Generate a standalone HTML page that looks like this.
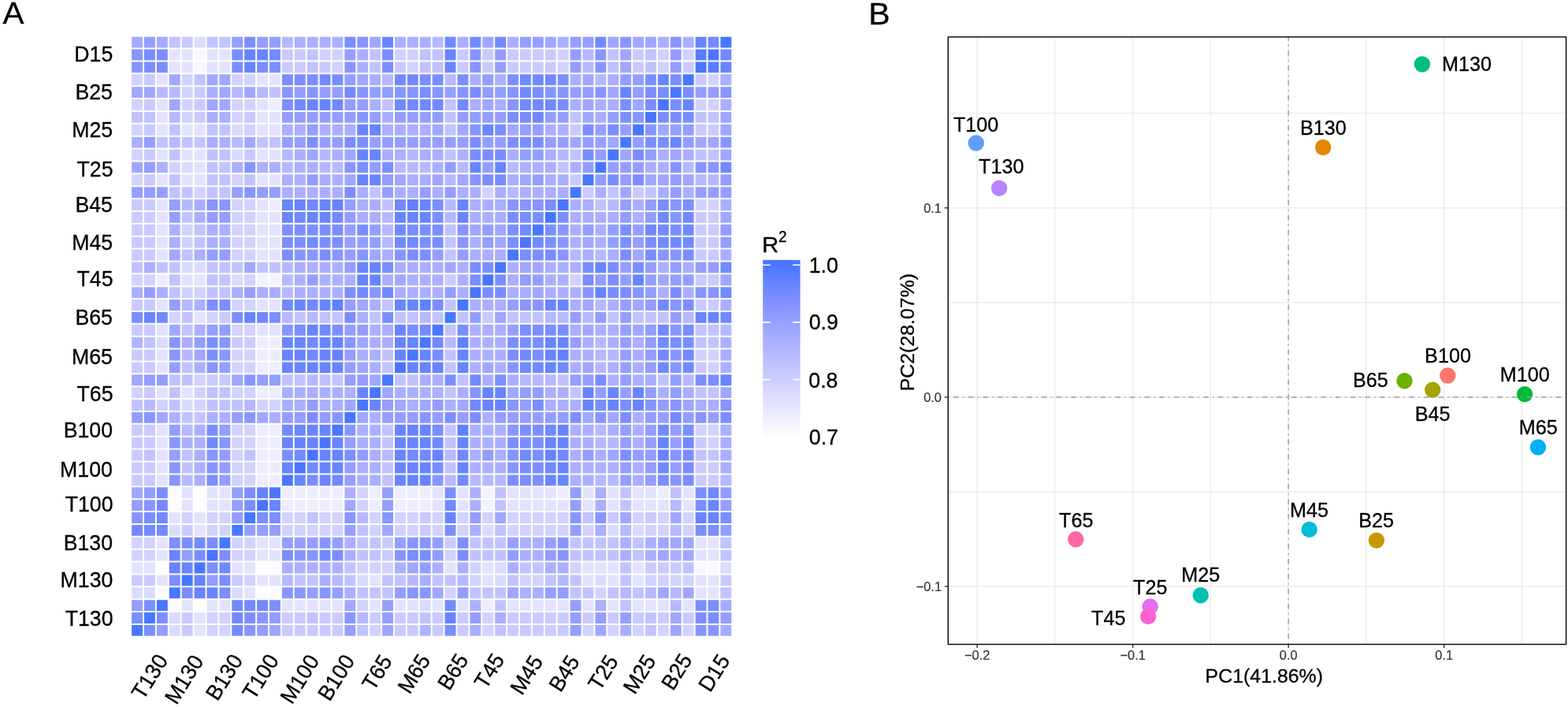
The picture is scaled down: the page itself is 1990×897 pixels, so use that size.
<!DOCTYPE html>
<html><head><meta charset="utf-8"><title>Figure</title>
<style>html,body{margin:0;padding:0;background:#fff;}body{width:1990px;height:897px;overflow:hidden;}svg{display:block;}</style>
</head><body>
<svg width="1990" height="897" viewBox="0 0 1990 897" font-family='"Liberation Sans", Arial, Helvetica, sans-serif'>
<style>text{stroke:#000;stroke-width:0.30px}text.tk{stroke:#333333;stroke-width:0.2px}</style>
<rect width="1990" height="897" fill="#fff"/>
<path fill="#FFFFFF" d="M246.60 618.26h13.90v13.88h-13.90zM246.60 634.14h13.90v13.88h-13.90zM198.90 713.53h13.90v13.88h-13.90zM326.10 713.53h13.90v13.88h-13.90zM342.00 713.53h13.90v13.88h-13.90zM246.60 761.16h13.90v13.88h-13.90z"/>
<path fill="#FCFBFF" d="M214.80 618.26h13.90v13.88h-13.90zM214.80 634.14h13.90v13.88h-13.90zM198.90 745.28h13.90v13.88h-13.90zM326.10 745.28h13.90v13.88h-13.90zM342.00 745.28h13.90v13.88h-13.90zM214.80 761.16h13.90v13.88h-13.90z"/>
<path fill="#F8F8FF" d="M246.60 62.53h13.90v13.88h-13.90zM246.60 78.41h13.90v13.88h-13.90zM882.60 713.53h13.90v13.88h-13.90zM898.50 713.53h13.90v13.88h-13.90z"/>
<path fill="#F3F3FF" d="M326.10 348.33h13.90v13.88h-13.90zM342.00 348.33h13.90v13.88h-13.90zM612.30 618.26h13.90v13.88h-13.90zM612.30 634.14h13.90v13.88h-13.90z"/>
<path fill="#EEEDFF" d="M342.00 126.04h13.90v13.88h-13.90zM342.00 253.06h13.90v13.88h-13.90zM198.90 348.33h13.90v13.88h-13.90zM326.10 427.72h13.90v13.88h-13.90zM342.00 427.72h13.90v13.88h-13.90zM326.10 443.60h13.90v13.88h-13.90zM342.00 443.60h13.90v13.88h-13.90zM326.10 459.48h13.90v13.88h-13.90zM342.00 459.48h13.90v13.88h-13.90zM326.10 491.23h13.90v13.88h-13.90zM342.00 491.23h13.90v13.88h-13.90zM326.10 538.87h13.90v13.88h-13.90zM342.00 538.87h13.90v13.88h-13.90zM326.10 554.75h13.90v13.88h-13.90zM342.00 554.75h13.90v13.88h-13.90zM326.10 570.62h13.90v13.88h-13.90zM342.00 570.62h13.90v13.88h-13.90zM326.10 586.50h13.90v13.88h-13.90zM342.00 586.50h13.90v13.88h-13.90zM326.10 602.38h13.90v13.88h-13.90zM342.00 602.38h13.90v13.88h-13.90zM357.90 618.26h13.90v13.88h-13.90zM373.80 618.26h13.90v13.88h-13.90zM389.70 618.26h13.90v13.88h-13.90zM405.60 618.26h13.90v13.88h-13.90zM421.50 618.26h13.90v13.88h-13.90zM469.20 618.26h13.90v13.88h-13.90zM501.00 618.26h13.90v13.88h-13.90zM516.90 618.26h13.90v13.88h-13.90zM532.80 618.26h13.90v13.88h-13.90zM707.70 618.26h13.90v13.88h-13.90zM834.90 618.26h13.90v13.88h-13.90zM357.90 634.14h13.90v13.88h-13.90zM373.80 634.14h13.90v13.88h-13.90zM389.70 634.14h13.90v13.88h-13.90zM405.60 634.14h13.90v13.88h-13.90zM421.50 634.14h13.90v13.88h-13.90zM469.20 634.14h13.90v13.88h-13.90zM501.00 634.14h13.90v13.88h-13.90zM516.90 634.14h13.90v13.88h-13.90zM532.80 634.14h13.90v13.88h-13.90zM612.30 761.16h13.90v13.88h-13.90z"/>
<path fill="#E4E3FF" d="M214.80 62.53h13.90v13.88h-13.90zM230.70 62.53h13.90v13.88h-13.90zM262.50 62.53h13.90v13.88h-13.90zM278.40 62.53h13.90v13.88h-13.90zM214.80 78.41h13.90v13.88h-13.90zM230.70 78.41h13.90v13.88h-13.90zM262.50 78.41h13.90v13.88h-13.90zM278.40 78.41h13.90v13.88h-13.90zM198.90 94.28h13.90v13.88h-13.90zM326.10 94.28h13.90v13.88h-13.90zM342.00 94.28h13.90v13.88h-13.90zM198.90 126.04h13.90v13.88h-13.90zM326.10 126.04h13.90v13.88h-13.90zM198.90 141.92h13.90v13.88h-13.90zM326.10 141.92h13.90v13.88h-13.90zM342.00 141.92h13.90v13.88h-13.90zM198.90 157.80h13.90v13.88h-13.90zM230.70 157.80h13.90v13.88h-13.90zM246.60 157.80h13.90v13.88h-13.90zM326.10 157.80h13.90v13.88h-13.90zM342.00 157.80h13.90v13.88h-13.90zM198.90 189.55h13.90v13.88h-13.90zM230.70 189.55h13.90v13.88h-13.90zM246.60 189.55h13.90v13.88h-13.90zM326.10 189.55h13.90v13.88h-13.90zM342.00 189.55h13.90v13.88h-13.90zM246.60 205.43h13.90v13.88h-13.90zM198.90 221.31h13.90v13.88h-13.90zM230.70 221.31h13.90v13.88h-13.90zM246.60 221.31h13.90v13.88h-13.90zM326.10 221.31h13.90v13.88h-13.90zM342.00 221.31h13.90v13.88h-13.90zM198.90 253.06h13.90v13.88h-13.90zM326.10 253.06h13.90v13.88h-13.90zM198.90 268.94h13.90v13.88h-13.90zM326.10 268.94h13.90v13.88h-13.90zM342.00 268.94h13.90v13.88h-13.90zM198.90 284.82h13.90v13.88h-13.90zM326.10 284.82h13.90v13.88h-13.90zM342.00 284.82h13.90v13.88h-13.90zM198.90 300.70h13.90v13.88h-13.90zM326.10 300.70h13.90v13.88h-13.90zM342.00 300.70h13.90v13.88h-13.90zM198.90 316.58h13.90v13.88h-13.90zM326.10 316.58h13.90v13.88h-13.90zM342.00 316.58h13.90v13.88h-13.90zM230.70 348.33h13.90v13.88h-13.90zM246.60 348.33h13.90v13.88h-13.90zM198.90 380.09h13.90v13.88h-13.90zM326.10 380.09h13.90v13.88h-13.90zM342.00 380.09h13.90v13.88h-13.90zM246.60 395.97h13.90v13.88h-13.90zM198.90 411.84h13.90v13.88h-13.90zM326.10 411.84h13.90v13.88h-13.90zM342.00 411.84h13.90v13.88h-13.90zM198.90 443.60h13.90v13.88h-13.90zM198.90 459.48h13.90v13.88h-13.90zM198.90 491.23h13.90v13.88h-13.90zM230.70 491.23h13.90v13.88h-13.90zM198.90 538.87h13.90v13.88h-13.90zM198.90 554.75h13.90v13.88h-13.90zM198.90 570.62h13.90v13.88h-13.90zM198.90 586.50h13.90v13.88h-13.90zM198.90 602.38h13.90v13.88h-13.90zM230.70 618.26h13.90v13.88h-13.90zM262.50 618.26h13.90v13.88h-13.90zM278.40 618.26h13.90v13.88h-13.90zM548.70 618.26h13.90v13.88h-13.90zM580.50 618.26h13.90v13.88h-13.90zM644.10 618.26h13.90v13.88h-13.90zM660.00 618.26h13.90v13.88h-13.90zM675.90 618.26h13.90v13.88h-13.90zM691.80 618.26h13.90v13.88h-13.90zM739.50 618.26h13.90v13.88h-13.90zM771.30 618.26h13.90v13.88h-13.90zM803.10 618.26h13.90v13.88h-13.90zM819.00 618.26h13.90v13.88h-13.90zM866.70 618.26h13.90v13.88h-13.90zM230.70 634.14h13.90v13.88h-13.90zM262.50 634.14h13.90v13.88h-13.90zM278.40 634.14h13.90v13.88h-13.90zM548.70 634.14h13.90v13.88h-13.90zM580.50 634.14h13.90v13.88h-13.90zM644.10 634.14h13.90v13.88h-13.90zM660.00 634.14h13.90v13.88h-13.90zM675.90 634.14h13.90v13.88h-13.90zM691.80 634.14h13.90v13.88h-13.90zM707.70 634.14h13.90v13.88h-13.90zM739.50 634.14h13.90v13.88h-13.90zM771.30 634.14h13.90v13.88h-13.90zM803.10 634.14h13.90v13.88h-13.90zM819.00 634.14h13.90v13.88h-13.90zM834.90 634.14h13.90v13.88h-13.90zM866.70 634.14h13.90v13.88h-13.90zM214.80 650.01h13.90v13.88h-13.90zM246.60 650.01h13.90v13.88h-13.90zM246.60 665.89h13.90v13.88h-13.90zM198.90 681.77h13.90v13.88h-13.90zM326.10 681.77h13.90v13.88h-13.90zM342.00 681.77h13.90v13.88h-13.90zM882.60 681.77h13.90v13.88h-13.90zM898.50 681.77h13.90v13.88h-13.90zM198.90 697.65h13.90v13.88h-13.90zM326.10 697.65h13.90v13.88h-13.90zM342.00 697.65h13.90v13.88h-13.90zM882.60 697.65h13.90v13.88h-13.90zM898.50 697.65h13.90v13.88h-13.90zM167.10 713.53h13.90v13.88h-13.90zM183.00 713.53h13.90v13.88h-13.90zM294.30 713.53h13.90v13.88h-13.90zM310.20 713.53h13.90v13.88h-13.90zM564.60 713.53h13.90v13.88h-13.90zM612.30 713.53h13.90v13.88h-13.90zM739.50 713.53h13.90v13.88h-13.90zM755.40 713.53h13.90v13.88h-13.90zM771.30 713.53h13.90v13.88h-13.90zM803.10 713.53h13.90v13.88h-13.90zM198.90 729.40h13.90v13.88h-13.90zM326.10 729.40h13.90v13.88h-13.90zM342.00 729.40h13.90v13.88h-13.90zM469.20 729.40h13.90v13.88h-13.90zM612.30 729.40h13.90v13.88h-13.90zM739.50 729.40h13.90v13.88h-13.90zM771.30 729.40h13.90v13.88h-13.90zM803.10 729.40h13.90v13.88h-13.90zM882.60 729.40h13.90v13.88h-13.90zM898.50 729.40h13.90v13.88h-13.90zM310.20 745.28h13.90v13.88h-13.90zM882.60 745.28h13.90v13.88h-13.90zM898.50 745.28h13.90v13.88h-13.90zM230.70 761.16h13.90v13.88h-13.90zM262.50 761.16h13.90v13.88h-13.90zM278.40 761.16h13.90v13.88h-13.90zM357.90 761.16h13.90v13.88h-13.90zM373.80 761.16h13.90v13.88h-13.90zM389.70 761.16h13.90v13.88h-13.90zM405.60 761.16h13.90v13.88h-13.90zM421.50 761.16h13.90v13.88h-13.90zM469.20 761.16h13.90v13.88h-13.90zM501.00 761.16h13.90v13.88h-13.90zM516.90 761.16h13.90v13.88h-13.90zM548.70 761.16h13.90v13.88h-13.90zM580.50 761.16h13.90v13.88h-13.90zM644.10 761.16h13.90v13.88h-13.90zM660.00 761.16h13.90v13.88h-13.90zM675.90 761.16h13.90v13.88h-13.90zM691.80 761.16h13.90v13.88h-13.90zM707.70 761.16h13.90v13.88h-13.90zM739.50 761.16h13.90v13.88h-13.90zM771.30 761.16h13.90v13.88h-13.90zM803.10 761.16h13.90v13.88h-13.90zM819.00 761.16h13.90v13.88h-13.90zM834.90 761.16h13.90v13.88h-13.90zM866.70 761.16h13.90v13.88h-13.90zM246.60 777.04h13.90v13.88h-13.90zM246.60 792.92h13.90v13.88h-13.90z"/>
<path fill="#DBDBFF" d="M246.60 46.65h13.90v13.88h-13.90zM294.30 157.80h13.90v13.88h-13.90zM294.30 189.55h13.90v13.88h-13.90zM230.70 205.43h13.90v13.88h-13.90zM230.70 332.45h13.90v13.88h-13.90zM246.60 332.45h13.90v13.88h-13.90zM294.30 348.33h13.90v13.88h-13.90zM198.90 427.72h13.90v13.88h-13.90zM230.70 507.11h13.90v13.88h-13.90zM214.80 665.89h13.90v13.88h-13.90zM612.30 665.89h13.90v13.88h-13.90zM771.30 665.89h13.90v13.88h-13.90zM803.10 665.89h13.90v13.88h-13.90zM628.20 713.53h13.90v13.88h-13.90zM914.40 713.53h13.90v13.88h-13.90zM453.30 729.40h13.90v13.88h-13.90zM628.20 729.40h13.90v13.88h-13.90zM755.40 729.40h13.90v13.88h-13.90zM167.10 745.28h13.90v13.88h-13.90zM183.00 745.28h13.90v13.88h-13.90zM294.30 745.28h13.90v13.88h-13.90zM532.80 761.16h13.90v13.88h-13.90zM214.80 777.04h13.90v13.88h-13.90zM214.80 792.92h13.90v13.88h-13.90z"/>
<path fill="#D2D2FF" d="M405.60 62.53h13.90v13.88h-13.90zM421.50 62.53h13.90v13.88h-13.90zM501.00 62.53h13.90v13.88h-13.90zM516.90 62.53h13.90v13.88h-13.90zM707.70 62.53h13.90v13.88h-13.90zM834.90 62.53h13.90v13.88h-13.90zM866.70 62.53h13.90v13.88h-13.90zM421.50 78.41h13.90v13.88h-13.90zM516.90 78.41h13.90v13.88h-13.90zM707.70 78.41h13.90v13.88h-13.90zM834.90 78.41h13.90v13.88h-13.90zM167.10 94.28h13.90v13.88h-13.90zM230.70 94.28h13.90v13.88h-13.90zM294.30 94.28h13.90v13.88h-13.90zM310.20 94.28h13.90v13.88h-13.90zM898.50 94.28h13.90v13.88h-13.90zM230.70 110.16h13.90v13.88h-13.90zM167.10 126.04h13.90v13.88h-13.90zM230.70 126.04h13.90v13.88h-13.90zM294.30 126.04h13.90v13.88h-13.90zM310.20 126.04h13.90v13.88h-13.90zM882.60 126.04h13.90v13.88h-13.90zM898.50 126.04h13.90v13.88h-13.90zM230.70 141.92h13.90v13.88h-13.90zM294.30 141.92h13.90v13.88h-13.90zM167.10 157.80h13.90v13.88h-13.90zM310.20 157.80h13.90v13.88h-13.90zM167.10 189.55h13.90v13.88h-13.90zM214.80 205.43h13.90v13.88h-13.90zM167.10 221.31h13.90v13.88h-13.90zM294.30 221.31h13.90v13.88h-13.90zM246.60 237.19h13.90v13.88h-13.90zM612.30 237.19h13.90v13.88h-13.90zM294.30 253.06h13.90v13.88h-13.90zM310.20 253.06h13.90v13.88h-13.90zM882.60 253.06h13.90v13.88h-13.90zM898.50 253.06h13.90v13.88h-13.90zM294.30 268.94h13.90v13.88h-13.90zM310.20 268.94h13.90v13.88h-13.90zM230.70 284.82h13.90v13.88h-13.90zM294.30 284.82h13.90v13.88h-13.90zM310.20 284.82h13.90v13.88h-13.90zM230.70 300.70h13.90v13.88h-13.90zM294.30 300.70h13.90v13.88h-13.90zM310.20 300.70h13.90v13.88h-13.90zM294.30 316.58h13.90v13.88h-13.90zM310.20 316.58h13.90v13.88h-13.90zM167.10 348.33h13.90v13.88h-13.90zM183.00 348.33h13.90v13.88h-13.90zM310.20 348.33h13.90v13.88h-13.90zM723.60 348.33h13.90v13.88h-13.90zM230.70 364.21h13.90v13.88h-13.90zM246.60 364.21h13.90v13.88h-13.90zM294.30 380.09h13.90v13.88h-13.90zM310.20 380.09h13.90v13.88h-13.90zM214.80 395.97h13.90v13.88h-13.90zM262.50 395.97h13.90v13.88h-13.90zM294.30 411.84h13.90v13.88h-13.90zM310.20 411.84h13.90v13.88h-13.90zM294.30 443.60h13.90v13.88h-13.90zM310.20 443.60h13.90v13.88h-13.90zM882.60 443.60h13.90v13.88h-13.90zM898.50 443.60h13.90v13.88h-13.90zM294.30 459.48h13.90v13.88h-13.90zM310.20 459.48h13.90v13.88h-13.90zM898.50 459.48h13.90v13.88h-13.90zM246.60 475.36h13.90v13.88h-13.90zM167.10 491.23h13.90v13.88h-13.90zM246.60 491.23h13.90v13.88h-13.90zM294.30 491.23h13.90v13.88h-13.90zM310.20 491.23h13.90v13.88h-13.90zM198.90 507.11h13.90v13.88h-13.90zM246.60 507.11h13.90v13.88h-13.90zM326.10 507.11h13.90v13.88h-13.90zM342.00 507.11h13.90v13.88h-13.90zM294.30 538.87h13.90v13.88h-13.90zM310.20 538.87h13.90v13.88h-13.90zM882.60 538.87h13.90v13.88h-13.90zM898.50 538.87h13.90v13.88h-13.90zM294.30 554.75h13.90v13.88h-13.90zM310.20 554.75h13.90v13.88h-13.90zM898.50 554.75h13.90v13.88h-13.90zM294.30 570.62h13.90v13.88h-13.90zM294.30 586.50h13.90v13.88h-13.90zM310.20 586.50h13.90v13.88h-13.90zM294.30 602.38h13.90v13.88h-13.90zM310.20 602.38h13.90v13.88h-13.90zM453.30 618.26h13.90v13.88h-13.90zM453.30 634.14h13.90v13.88h-13.90zM230.70 650.01h13.90v13.88h-13.90zM262.50 650.01h13.90v13.88h-13.90zM278.40 650.01h13.90v13.88h-13.90zM357.90 650.01h13.90v13.88h-13.90zM373.80 650.01h13.90v13.88h-13.90zM405.60 650.01h13.90v13.88h-13.90zM421.50 650.01h13.90v13.88h-13.90zM469.20 650.01h13.90v13.88h-13.90zM501.00 650.01h13.90v13.88h-13.90zM516.90 650.01h13.90v13.88h-13.90zM548.70 650.01h13.90v13.88h-13.90zM580.50 650.01h13.90v13.88h-13.90zM612.30 650.01h13.90v13.88h-13.90zM644.10 650.01h13.90v13.88h-13.90zM660.00 650.01h13.90v13.88h-13.90zM675.90 650.01h13.90v13.88h-13.90zM691.80 650.01h13.90v13.88h-13.90zM707.70 650.01h13.90v13.88h-13.90zM803.10 650.01h13.90v13.88h-13.90zM834.90 650.01h13.90v13.88h-13.90zM866.70 650.01h13.90v13.88h-13.90zM262.50 665.89h13.90v13.88h-13.90zM278.40 665.89h13.90v13.88h-13.90zM357.90 665.89h13.90v13.88h-13.90zM373.80 665.89h13.90v13.88h-13.90zM389.70 665.89h13.90v13.88h-13.90zM405.60 665.89h13.90v13.88h-13.90zM421.50 665.89h13.90v13.88h-13.90zM469.20 665.89h13.90v13.88h-13.90zM501.00 665.89h13.90v13.88h-13.90zM516.90 665.89h13.90v13.88h-13.90zM548.70 665.89h13.90v13.88h-13.90zM580.50 665.89h13.90v13.88h-13.90zM644.10 665.89h13.90v13.88h-13.90zM660.00 665.89h13.90v13.88h-13.90zM675.90 665.89h13.90v13.88h-13.90zM691.80 665.89h13.90v13.88h-13.90zM707.70 665.89h13.90v13.88h-13.90zM739.50 665.89h13.90v13.88h-13.90zM819.00 665.89h13.90v13.88h-13.90zM834.90 665.89h13.90v13.88h-13.90zM866.70 665.89h13.90v13.88h-13.90zM167.10 681.77h13.90v13.88h-13.90zM183.00 681.77h13.90v13.88h-13.90zM294.30 681.77h13.90v13.88h-13.90zM310.20 681.77h13.90v13.88h-13.90zM167.10 697.65h13.90v13.88h-13.90zM183.00 697.65h13.90v13.88h-13.90zM294.30 697.65h13.90v13.88h-13.90zM310.20 697.65h13.90v13.88h-13.90zM564.60 697.65h13.90v13.88h-13.90zM453.30 713.53h13.90v13.88h-13.90zM469.20 713.53h13.90v13.88h-13.90zM485.10 713.53h13.90v13.88h-13.90zM596.40 713.53h13.90v13.88h-13.90zM723.60 713.53h13.90v13.88h-13.90zM310.20 729.40h13.90v13.88h-13.90zM596.40 729.40h13.90v13.88h-13.90zM660.00 729.40h13.90v13.88h-13.90zM675.90 729.40h13.90v13.88h-13.90zM819.00 729.40h13.90v13.88h-13.90zM834.90 729.40h13.90v13.88h-13.90zM850.80 729.40h13.90v13.88h-13.90zM866.70 729.40h13.90v13.88h-13.90zM564.60 745.28h13.90v13.88h-13.90zM755.40 745.28h13.90v13.88h-13.90zM453.30 761.16h13.90v13.88h-13.90zM262.50 777.04h13.90v13.88h-13.90zM278.40 777.04h13.90v13.88h-13.90zM612.30 777.04h13.90v13.88h-13.90zM262.50 792.92h13.90v13.88h-13.90zM278.40 792.92h13.90v13.88h-13.90zM469.20 792.92h13.90v13.88h-13.90zM612.30 792.92h13.90v13.88h-13.90zM739.50 792.92h13.90v13.88h-13.90zM771.30 792.92h13.90v13.88h-13.90zM803.10 792.92h13.90v13.88h-13.90zM834.90 792.92h13.90v13.88h-13.90zM866.70 792.92h13.90v13.88h-13.90z"/>
<path fill="#CACAFF" d="M230.70 46.65h13.90v13.88h-13.90zM357.90 62.53h13.90v13.88h-13.90zM373.80 62.53h13.90v13.88h-13.90zM580.50 62.53h13.90v13.88h-13.90zM612.30 62.53h13.90v13.88h-13.90zM644.10 62.53h13.90v13.88h-13.90zM660.00 62.53h13.90v13.88h-13.90zM675.90 62.53h13.90v13.88h-13.90zM691.80 62.53h13.90v13.88h-13.90zM803.10 62.53h13.90v13.88h-13.90zM357.90 78.41h13.90v13.88h-13.90zM373.80 78.41h13.90v13.88h-13.90zM405.60 78.41h13.90v13.88h-13.90zM501.00 78.41h13.90v13.88h-13.90zM580.50 78.41h13.90v13.88h-13.90zM612.30 78.41h13.90v13.88h-13.90zM644.10 78.41h13.90v13.88h-13.90zM660.00 78.41h13.90v13.88h-13.90zM675.90 78.41h13.90v13.88h-13.90zM691.80 78.41h13.90v13.88h-13.90zM803.10 78.41h13.90v13.88h-13.90zM866.70 78.41h13.90v13.88h-13.90zM183.00 94.28h13.90v13.88h-13.90zM882.60 94.28h13.90v13.88h-13.90zM246.60 110.16h13.90v13.88h-13.90zM183.00 126.04h13.90v13.88h-13.90zM246.60 126.04h13.90v13.88h-13.90zM246.60 141.92h13.90v13.88h-13.90zM310.20 141.92h13.90v13.88h-13.90zM183.00 157.80h13.90v13.88h-13.90zM723.60 157.80h13.90v13.88h-13.90zM882.60 157.80h13.90v13.88h-13.90zM898.50 157.80h13.90v13.88h-13.90zM183.00 189.55h13.90v13.88h-13.90zM310.20 189.55h13.90v13.88h-13.90zM183.00 221.31h13.90v13.88h-13.90zM723.60 221.31h13.90v13.88h-13.90zM739.50 237.19h13.90v13.88h-13.90zM803.10 237.19h13.90v13.88h-13.90zM167.10 253.06h13.90v13.88h-13.90zM183.00 253.06h13.90v13.88h-13.90zM167.10 268.94h13.90v13.88h-13.90zM183.00 268.94h13.90v13.88h-13.90zM882.60 268.94h13.90v13.88h-13.90zM898.50 268.94h13.90v13.88h-13.90zM167.10 284.82h13.90v13.88h-13.90zM183.00 284.82h13.90v13.88h-13.90zM882.60 284.82h13.90v13.88h-13.90zM898.50 284.82h13.90v13.88h-13.90zM167.10 300.70h13.90v13.88h-13.90zM183.00 300.70h13.90v13.88h-13.90zM882.60 300.70h13.90v13.88h-13.90zM898.50 300.70h13.90v13.88h-13.90zM167.10 316.58h13.90v13.88h-13.90zM183.00 316.58h13.90v13.88h-13.90zM882.60 316.58h13.90v13.88h-13.90zM898.50 316.58h13.90v13.88h-13.90zM564.60 348.33h13.90v13.88h-13.90zM882.60 348.33h13.90v13.88h-13.90zM898.50 348.33h13.90v13.88h-13.90zM167.10 380.09h13.90v13.88h-13.90zM183.00 380.09h13.90v13.88h-13.90zM882.60 380.09h13.90v13.88h-13.90zM898.50 380.09h13.90v13.88h-13.90zM278.40 395.97h13.90v13.88h-13.90zM612.30 395.97h13.90v13.88h-13.90zM167.10 411.84h13.90v13.88h-13.90zM183.00 411.84h13.90v13.88h-13.90zM294.30 427.72h13.90v13.88h-13.90zM310.20 427.72h13.90v13.88h-13.90zM167.10 443.60h13.90v13.88h-13.90zM183.00 443.60h13.90v13.88h-13.90zM167.10 459.48h13.90v13.88h-13.90zM183.00 459.48h13.90v13.88h-13.90zM882.60 459.48h13.90v13.88h-13.90zM262.50 475.36h13.90v13.88h-13.90zM278.40 475.36h13.90v13.88h-13.90zM183.00 491.23h13.90v13.88h-13.90zM167.10 538.87h13.90v13.88h-13.90zM183.00 538.87h13.90v13.88h-13.90zM167.10 554.75h13.90v13.88h-13.90zM183.00 554.75h13.90v13.88h-13.90zM882.60 554.75h13.90v13.88h-13.90zM167.10 570.62h13.90v13.88h-13.90zM167.10 586.50h13.90v13.88h-13.90zM183.00 586.50h13.90v13.88h-13.90zM882.60 586.50h13.90v13.88h-13.90zM898.50 586.50h13.90v13.88h-13.90zM167.10 602.38h13.90v13.88h-13.90zM183.00 602.38h13.90v13.88h-13.90zM882.60 602.38h13.90v13.88h-13.90zM898.50 602.38h13.90v13.88h-13.90zM532.80 650.01h13.90v13.88h-13.90zM771.30 650.01h13.90v13.88h-13.90zM819.00 650.01h13.90v13.88h-13.90zM230.70 665.89h13.90v13.88h-13.90zM532.80 665.89h13.90v13.88h-13.90zM485.10 681.77h13.90v13.88h-13.90zM564.60 681.77h13.90v13.88h-13.90zM485.10 697.65h13.90v13.88h-13.90zM819.00 713.53h13.90v13.88h-13.90zM834.90 713.53h13.90v13.88h-13.90zM850.80 713.53h13.90v13.88h-13.90zM167.10 729.40h13.90v13.88h-13.90zM183.00 729.40h13.90v13.88h-13.90zM294.30 729.40h13.90v13.88h-13.90zM914.40 729.40h13.90v13.88h-13.90zM230.70 777.04h13.90v13.88h-13.90zM357.90 777.04h13.90v13.88h-13.90zM373.80 777.04h13.90v13.88h-13.90zM405.60 777.04h13.90v13.88h-13.90zM421.50 777.04h13.90v13.88h-13.90zM469.20 777.04h13.90v13.88h-13.90zM501.00 777.04h13.90v13.88h-13.90zM516.90 777.04h13.90v13.88h-13.90zM548.70 777.04h13.90v13.88h-13.90zM580.50 777.04h13.90v13.88h-13.90zM644.10 777.04h13.90v13.88h-13.90zM660.00 777.04h13.90v13.88h-13.90zM675.90 777.04h13.90v13.88h-13.90zM691.80 777.04h13.90v13.88h-13.90zM707.70 777.04h13.90v13.88h-13.90zM739.50 777.04h13.90v13.88h-13.90zM771.30 777.04h13.90v13.88h-13.90zM803.10 777.04h13.90v13.88h-13.90zM834.90 777.04h13.90v13.88h-13.90zM866.70 777.04h13.90v13.88h-13.90zM230.70 792.92h13.90v13.88h-13.90zM357.90 792.92h13.90v13.88h-13.90zM373.80 792.92h13.90v13.88h-13.90zM389.70 792.92h13.90v13.88h-13.90zM405.60 792.92h13.90v13.88h-13.90zM421.50 792.92h13.90v13.88h-13.90zM501.00 792.92h13.90v13.88h-13.90zM516.90 792.92h13.90v13.88h-13.90zM548.70 792.92h13.90v13.88h-13.90zM580.50 792.92h13.90v13.88h-13.90zM644.10 792.92h13.90v13.88h-13.90zM660.00 792.92h13.90v13.88h-13.90zM675.90 792.92h13.90v13.88h-13.90zM691.80 792.92h13.90v13.88h-13.90zM707.70 792.92h13.90v13.88h-13.90z"/>
<path fill="#C1C3FF" d="M214.80 46.65h13.90v13.88h-13.90zM262.50 46.65h13.90v13.88h-13.90zM278.40 46.65h13.90v13.88h-13.90zM389.70 62.53h13.90v13.88h-13.90zM469.20 62.53h13.90v13.88h-13.90zM532.80 62.53h13.90v13.88h-13.90zM548.70 62.53h13.90v13.88h-13.90zM771.30 62.53h13.90v13.88h-13.90zM819.00 62.53h13.90v13.88h-13.90zM389.70 78.41h13.90v13.88h-13.90zM469.20 78.41h13.90v13.88h-13.90zM532.80 78.41h13.90v13.88h-13.90zM548.70 78.41h13.90v13.88h-13.90zM771.30 78.41h13.90v13.88h-13.90zM819.00 78.41h13.90v13.88h-13.90zM246.60 94.28h13.90v13.88h-13.90zM342.00 110.16h13.90v13.88h-13.90zM485.10 126.04h13.90v13.88h-13.90zM564.60 126.04h13.90v13.88h-13.90zM167.10 141.92h13.90v13.88h-13.90zM183.00 141.92h13.90v13.88h-13.90zM564.60 141.92h13.90v13.88h-13.90zM723.60 141.92h13.90v13.88h-13.90zM882.60 141.92h13.90v13.88h-13.90zM898.50 141.92h13.90v13.88h-13.90zM214.80 157.80h13.90v13.88h-13.90zM262.50 157.80h13.90v13.88h-13.90zM278.40 157.80h13.90v13.88h-13.90zM564.60 157.80h13.90v13.88h-13.90zM198.90 173.67h13.90v13.88h-13.90zM230.70 173.67h13.90v13.88h-13.90zM246.60 173.67h13.90v13.88h-13.90zM326.10 173.67h13.90v13.88h-13.90zM342.00 173.67h13.90v13.88h-13.90zM214.80 189.55h13.90v13.88h-13.90zM262.50 189.55h13.90v13.88h-13.90zM278.40 189.55h13.90v13.88h-13.90zM564.60 189.55h13.90v13.88h-13.90zM723.60 189.55h13.90v13.88h-13.90zM882.60 189.55h13.90v13.88h-13.90zM898.50 189.55h13.90v13.88h-13.90zM262.50 205.43h13.90v13.88h-13.90zM278.40 205.43h13.90v13.88h-13.90zM707.70 205.43h13.90v13.88h-13.90zM214.80 221.31h13.90v13.88h-13.90zM262.50 221.31h13.90v13.88h-13.90zM278.40 221.31h13.90v13.88h-13.90zM310.20 221.31h13.90v13.88h-13.90zM214.80 237.19h13.90v13.88h-13.90zM230.70 237.19h13.90v13.88h-13.90zM262.50 237.19h13.90v13.88h-13.90zM278.40 237.19h13.90v13.88h-13.90zM469.20 237.19h13.90v13.88h-13.90zM771.30 237.19h13.90v13.88h-13.90zM819.00 237.19h13.90v13.88h-13.90zM485.10 253.06h13.90v13.88h-13.90zM755.40 253.06h13.90v13.88h-13.90zM230.70 268.94h13.90v13.88h-13.90zM246.60 284.82h13.90v13.88h-13.90zM564.60 284.82h13.90v13.88h-13.90zM246.60 300.70h13.90v13.88h-13.90zM564.60 300.70h13.90v13.88h-13.90zM230.70 316.58h13.90v13.88h-13.90zM564.60 316.58h13.90v13.88h-13.90zM167.10 332.45h13.90v13.88h-13.90zM198.90 332.45h13.90v13.88h-13.90zM214.80 332.45h13.90v13.88h-13.90zM262.50 332.45h13.90v13.88h-13.90zM278.40 332.45h13.90v13.88h-13.90zM294.30 332.45h13.90v13.88h-13.90zM326.10 332.45h13.90v13.88h-13.90zM342.00 332.45h13.90v13.88h-13.90zM214.80 348.33h13.90v13.88h-13.90zM262.50 348.33h13.90v13.88h-13.90zM278.40 348.33h13.90v13.88h-13.90zM214.80 364.21h13.90v13.88h-13.90zM262.50 364.21h13.90v13.88h-13.90zM278.40 364.21h13.90v13.88h-13.90zM485.10 380.09h13.90v13.88h-13.90zM564.60 380.09h13.90v13.88h-13.90zM230.70 395.97h13.90v13.88h-13.90zM373.80 395.97h13.90v13.88h-13.90zM405.60 395.97h13.90v13.88h-13.90zM421.50 395.97h13.90v13.88h-13.90zM469.20 395.97h13.90v13.88h-13.90zM501.00 395.97h13.90v13.88h-13.90zM516.90 395.97h13.90v13.88h-13.90zM548.70 395.97h13.90v13.88h-13.90zM580.50 395.97h13.90v13.88h-13.90zM644.10 395.97h13.90v13.88h-13.90zM660.00 395.97h13.90v13.88h-13.90zM675.90 395.97h13.90v13.88h-13.90zM771.30 395.97h13.90v13.88h-13.90zM803.10 395.97h13.90v13.88h-13.90zM819.00 395.97h13.90v13.88h-13.90zM834.90 395.97h13.90v13.88h-13.90zM230.70 411.84h13.90v13.88h-13.90zM564.60 411.84h13.90v13.88h-13.90zM882.60 411.84h13.90v13.88h-13.90zM898.50 411.84h13.90v13.88h-13.90zM183.00 427.72h13.90v13.88h-13.90zM882.60 427.72h13.90v13.88h-13.90zM898.50 427.72h13.90v13.88h-13.90zM485.10 443.60h13.90v13.88h-13.90zM564.60 443.60h13.90v13.88h-13.90zM230.70 459.48h13.90v13.88h-13.90zM485.10 459.48h13.90v13.88h-13.90zM564.60 459.48h13.90v13.88h-13.90zM214.80 475.36h13.90v13.88h-13.90zM230.70 475.36h13.90v13.88h-13.90zM357.90 475.36h13.90v13.88h-13.90zM373.80 475.36h13.90v13.88h-13.90zM405.60 475.36h13.90v13.88h-13.90zM421.50 475.36h13.90v13.88h-13.90zM501.00 475.36h13.90v13.88h-13.90zM516.90 475.36h13.90v13.88h-13.90zM580.50 475.36h13.90v13.88h-13.90zM707.70 475.36h13.90v13.88h-13.90zM834.90 475.36h13.90v13.88h-13.90zM214.80 491.23h13.90v13.88h-13.90zM262.50 491.23h13.90v13.88h-13.90zM278.40 491.23h13.90v13.88h-13.90zM564.60 491.23h13.90v13.88h-13.90zM723.60 491.23h13.90v13.88h-13.90zM882.60 491.23h13.90v13.88h-13.90zM898.50 491.23h13.90v13.88h-13.90zM167.10 507.11h13.90v13.88h-13.90zM214.80 507.11h13.90v13.88h-13.90zM262.50 507.11h13.90v13.88h-13.90zM278.40 507.11h13.90v13.88h-13.90zM294.30 507.11h13.90v13.88h-13.90zM230.70 522.99h13.90v13.88h-13.90zM246.60 522.99h13.90v13.88h-13.90zM485.10 538.87h13.90v13.88h-13.90zM564.60 538.87h13.90v13.88h-13.90zM485.10 554.75h13.90v13.88h-13.90zM564.60 554.75h13.90v13.88h-13.90zM183.00 570.62h13.90v13.88h-13.90zM230.70 570.62h13.90v13.88h-13.90zM310.20 570.62h13.90v13.88h-13.90zM882.60 570.62h13.90v13.88h-13.90zM898.50 570.62h13.90v13.88h-13.90zM230.70 586.50h13.90v13.88h-13.90zM485.10 586.50h13.90v13.88h-13.90zM564.60 586.50h13.90v13.88h-13.90zM485.10 602.38h13.90v13.88h-13.90zM628.20 618.26h13.90v13.88h-13.90zM787.20 618.26h13.90v13.88h-13.90zM850.80 618.26h13.90v13.88h-13.90zM628.20 634.14h13.90v13.88h-13.90zM787.20 634.14h13.90v13.88h-13.90zM389.70 650.01h13.90v13.88h-13.90zM739.50 650.01h13.90v13.88h-13.90zM453.30 665.89h13.90v13.88h-13.90zM628.20 665.89h13.90v13.88h-13.90zM453.30 681.77h13.90v13.88h-13.90zM469.20 681.77h13.90v13.88h-13.90zM596.40 681.77h13.90v13.88h-13.90zM612.30 681.77h13.90v13.88h-13.90zM628.20 681.77h13.90v13.88h-13.90zM723.60 681.77h13.90v13.88h-13.90zM739.50 681.77h13.90v13.88h-13.90zM755.40 681.77h13.90v13.88h-13.90zM771.30 681.77h13.90v13.88h-13.90zM803.10 681.77h13.90v13.88h-13.90zM914.40 681.77h13.90v13.88h-13.90zM453.30 697.65h13.90v13.88h-13.90zM469.20 697.65h13.90v13.88h-13.90zM596.40 697.65h13.90v13.88h-13.90zM612.30 697.65h13.90v13.88h-13.90zM628.20 697.65h13.90v13.88h-13.90zM723.60 697.65h13.90v13.88h-13.90zM739.50 697.65h13.90v13.88h-13.90zM755.40 697.65h13.90v13.88h-13.90zM771.30 697.65h13.90v13.88h-13.90zM803.10 697.65h13.90v13.88h-13.90zM914.40 697.65h13.90v13.88h-13.90zM437.40 713.53h13.90v13.88h-13.90zM660.00 713.53h13.90v13.88h-13.90zM675.90 713.53h13.90v13.88h-13.90zM787.20 713.53h13.90v13.88h-13.90zM866.70 713.53h13.90v13.88h-13.90zM373.80 729.40h13.90v13.88h-13.90zM389.70 729.40h13.90v13.88h-13.90zM437.40 729.40h13.90v13.88h-13.90zM485.10 729.40h13.90v13.88h-13.90zM501.00 729.40h13.90v13.88h-13.90zM548.70 729.40h13.90v13.88h-13.90zM564.60 729.40h13.90v13.88h-13.90zM644.10 729.40h13.90v13.88h-13.90zM691.80 729.40h13.90v13.88h-13.90zM723.60 729.40h13.90v13.88h-13.90zM787.20 729.40h13.90v13.88h-13.90zM453.30 745.28h13.90v13.88h-13.90zM469.20 745.28h13.90v13.88h-13.90zM485.10 745.28h13.90v13.88h-13.90zM596.40 745.28h13.90v13.88h-13.90zM612.30 745.28h13.90v13.88h-13.90zM628.20 745.28h13.90v13.88h-13.90zM723.60 745.28h13.90v13.88h-13.90zM739.50 745.28h13.90v13.88h-13.90zM771.30 745.28h13.90v13.88h-13.90zM803.10 745.28h13.90v13.88h-13.90zM914.40 745.28h13.90v13.88h-13.90zM628.20 761.16h13.90v13.88h-13.90zM787.20 761.16h13.90v13.88h-13.90zM389.70 777.04h13.90v13.88h-13.90zM532.80 777.04h13.90v13.88h-13.90zM819.00 777.04h13.90v13.88h-13.90zM453.30 792.92h13.90v13.88h-13.90zM628.20 792.92h13.90v13.88h-13.90zM819.00 792.92h13.90v13.88h-13.90z"/>
<path fill="#B6B9FF" d="M357.90 46.65h13.90v13.88h-13.90zM548.70 46.65h13.90v13.88h-13.90zM739.50 62.53h13.90v13.88h-13.90zM739.50 78.41h13.90v13.88h-13.90zM485.10 94.28h13.90v13.88h-13.90zM564.60 94.28h13.90v13.88h-13.90zM755.40 94.28h13.90v13.88h-13.90zM198.90 110.16h13.90v13.88h-13.90zM214.80 110.16h13.90v13.88h-13.90zM294.30 110.16h13.90v13.88h-13.90zM326.10 110.16h13.90v13.88h-13.90zM214.80 141.92h13.90v13.88h-13.90zM214.80 173.67h13.90v13.88h-13.90zM294.30 173.67h13.90v13.88h-13.90zM357.90 189.55h13.90v13.88h-13.90zM405.60 189.55h13.90v13.88h-13.90zM516.90 189.55h13.90v13.88h-13.90zM707.70 189.55h13.90v13.88h-13.90zM357.90 205.43h13.90v13.88h-13.90zM405.60 205.43h13.90v13.88h-13.90zM421.50 205.43h13.90v13.88h-13.90zM501.00 205.43h13.90v13.88h-13.90zM516.90 205.43h13.90v13.88h-13.90zM532.80 205.43h13.90v13.88h-13.90zM580.50 205.43h13.90v13.88h-13.90zM644.10 205.43h13.90v13.88h-13.90zM866.70 205.43h13.90v13.88h-13.90zM564.60 221.31h13.90v13.88h-13.90zM882.60 221.31h13.90v13.88h-13.90zM898.50 221.31h13.90v13.88h-13.90zM644.10 237.19h13.90v13.88h-13.90zM230.70 253.06h13.90v13.88h-13.90zM564.60 253.06h13.90v13.88h-13.90zM771.30 253.06h13.90v13.88h-13.90zM485.10 268.94h13.90v13.88h-13.90zM564.60 268.94h13.90v13.88h-13.90zM485.10 284.82h13.90v13.88h-13.90zM485.10 300.70h13.90v13.88h-13.90zM723.60 316.58h13.90v13.88h-13.90zM755.40 316.58h13.90v13.88h-13.90zM357.90 332.45h13.90v13.88h-13.90zM357.90 348.33h13.90v13.88h-13.90zM357.90 364.21h13.90v13.88h-13.90zM230.70 380.09h13.90v13.88h-13.90zM755.40 380.09h13.90v13.88h-13.90zM357.90 395.97h13.90v13.88h-13.90zM389.70 395.97h13.90v13.88h-13.90zM532.80 395.97h13.90v13.88h-13.90zM691.80 395.97h13.90v13.88h-13.90zM707.70 395.97h13.90v13.88h-13.90zM739.50 395.97h13.90v13.88h-13.90zM866.70 395.97h13.90v13.88h-13.90zM914.40 411.84h13.90v13.88h-13.90zM564.60 427.72h13.90v13.88h-13.90zM755.40 427.72h13.90v13.88h-13.90zM230.70 443.60h13.90v13.88h-13.90zM755.40 443.60h13.90v13.88h-13.90zM771.30 443.60h13.90v13.88h-13.90zM755.40 459.48h13.90v13.88h-13.90zM389.70 475.36h13.90v13.88h-13.90zM660.00 475.36h13.90v13.88h-13.90zM675.90 475.36h13.90v13.88h-13.90zM691.80 475.36h13.90v13.88h-13.90zM866.70 475.36h13.90v13.88h-13.90zM183.00 507.11h13.90v13.88h-13.90zM310.20 507.11h13.90v13.88h-13.90zM230.70 538.87h13.90v13.88h-13.90zM755.40 538.87h13.90v13.88h-13.90zM755.40 554.75h13.90v13.88h-13.90zM771.30 554.75h13.90v13.88h-13.90zM485.10 570.62h13.90v13.88h-13.90zM564.60 570.62h13.90v13.88h-13.90zM230.70 602.38h13.90v13.88h-13.90zM564.60 602.38h13.90v13.88h-13.90zM596.40 602.38h13.90v13.88h-13.90zM612.30 602.38h13.90v13.88h-13.90zM628.20 602.38h13.90v13.88h-13.90zM755.40 602.38h13.90v13.88h-13.90zM771.30 602.38h13.90v13.88h-13.90zM914.40 602.38h13.90v13.88h-13.90zM850.80 634.14h13.90v13.88h-13.90zM453.30 650.01h13.90v13.88h-13.90zM787.20 665.89h13.90v13.88h-13.90zM850.80 665.89h13.90v13.88h-13.90zM357.90 729.40h13.90v13.88h-13.90zM421.50 729.40h13.90v13.88h-13.90zM516.90 729.40h13.90v13.88h-13.90zM580.50 729.40h13.90v13.88h-13.90zM707.70 729.40h13.90v13.88h-13.90zM787.20 745.28h13.90v13.88h-13.90zM819.00 745.28h13.90v13.88h-13.90zM850.80 745.28h13.90v13.88h-13.90zM850.80 761.16h13.90v13.88h-13.90zM453.30 777.04h13.90v13.88h-13.90z"/>
<path fill="#B0B4FF" d="M167.10 427.72h13.90v13.88h-13.90zM532.80 792.92h13.90v13.88h-13.90z"/>
<path fill="#AAAFFF" d="M373.80 46.65h13.90v13.88h-13.90zM389.70 46.65h13.90v13.88h-13.90zM405.60 46.65h13.90v13.88h-13.90zM421.50 46.65h13.90v13.88h-13.90zM501.00 46.65h13.90v13.88h-13.90zM516.90 46.65h13.90v13.88h-13.90zM532.80 46.65h13.90v13.88h-13.90zM580.50 46.65h13.90v13.88h-13.90zM644.10 46.65h13.90v13.88h-13.90zM707.70 46.65h13.90v13.88h-13.90zM834.90 46.65h13.90v13.88h-13.90zM866.70 46.65h13.90v13.88h-13.90zM453.30 62.53h13.90v13.88h-13.90zM453.30 78.41h13.90v13.88h-13.90zM469.20 94.28h13.90v13.88h-13.90zM596.40 94.28h13.90v13.88h-13.90zM628.20 94.28h13.90v13.88h-13.90zM723.60 94.28h13.90v13.88h-13.90zM771.30 94.28h13.90v13.88h-13.90zM914.40 94.28h13.90v13.88h-13.90zM262.50 110.16h13.90v13.88h-13.90zM469.20 126.04h13.90v13.88h-13.90zM596.40 126.04h13.90v13.88h-13.90zM628.20 126.04h13.90v13.88h-13.90zM723.60 126.04h13.90v13.88h-13.90zM755.40 126.04h13.90v13.88h-13.90zM771.30 126.04h13.90v13.88h-13.90zM914.40 126.04h13.90v13.88h-13.90zM262.50 141.92h13.90v13.88h-13.90zM278.40 141.92h13.90v13.88h-13.90zM485.10 141.92h13.90v13.88h-13.90zM755.40 141.92h13.90v13.88h-13.90zM357.90 157.80h13.90v13.88h-13.90zM373.80 157.80h13.90v13.88h-13.90zM405.60 157.80h13.90v13.88h-13.90zM421.50 157.80h13.90v13.88h-13.90zM437.40 157.80h13.90v13.88h-13.90zM485.10 157.80h13.90v13.88h-13.90zM501.00 157.80h13.90v13.88h-13.90zM516.90 157.80h13.90v13.88h-13.90zM532.80 157.80h13.90v13.88h-13.90zM691.80 157.80h13.90v13.88h-13.90zM707.70 157.80h13.90v13.88h-13.90zM167.10 173.67h13.90v13.88h-13.90zM262.50 173.67h13.90v13.88h-13.90zM278.40 173.67h13.90v13.88h-13.90zM373.80 189.55h13.90v13.88h-13.90zM421.50 189.55h13.90v13.88h-13.90zM485.10 189.55h13.90v13.88h-13.90zM501.00 189.55h13.90v13.88h-13.90zM532.80 189.55h13.90v13.88h-13.90zM548.70 189.55h13.90v13.88h-13.90zM580.50 189.55h13.90v13.88h-13.90zM644.10 189.55h13.90v13.88h-13.90zM691.80 189.55h13.90v13.88h-13.90zM834.90 189.55h13.90v13.88h-13.90zM866.70 189.55h13.90v13.88h-13.90zM198.90 205.43h13.90v13.88h-13.90zM294.30 205.43h13.90v13.88h-13.90zM326.10 205.43h13.90v13.88h-13.90zM342.00 205.43h13.90v13.88h-13.90zM373.80 205.43h13.90v13.88h-13.90zM389.70 205.43h13.90v13.88h-13.90zM548.70 205.43h13.90v13.88h-13.90zM660.00 205.43h13.90v13.88h-13.90zM675.90 205.43h13.90v13.88h-13.90zM691.80 205.43h13.90v13.88h-13.90zM723.60 205.43h13.90v13.88h-13.90zM819.00 205.43h13.90v13.88h-13.90zM834.90 205.43h13.90v13.88h-13.90zM357.90 221.31h13.90v13.88h-13.90zM373.80 221.31h13.90v13.88h-13.90zM405.60 221.31h13.90v13.88h-13.90zM421.50 221.31h13.90v13.88h-13.90zM516.90 221.31h13.90v13.88h-13.90zM532.80 221.31h13.90v13.88h-13.90zM644.10 221.31h13.90v13.88h-13.90zM691.80 221.31h13.90v13.88h-13.90zM707.70 221.31h13.90v13.88h-13.90zM357.90 237.19h13.90v13.88h-13.90zM373.80 237.19h13.90v13.88h-13.90zM389.70 237.19h13.90v13.88h-13.90zM405.60 237.19h13.90v13.88h-13.90zM421.50 237.19h13.90v13.88h-13.90zM453.30 237.19h13.90v13.88h-13.90zM501.00 237.19h13.90v13.88h-13.90zM516.90 237.19h13.90v13.88h-13.90zM548.70 237.19h13.90v13.88h-13.90zM580.50 237.19h13.90v13.88h-13.90zM596.40 237.19h13.90v13.88h-13.90zM628.20 237.19h13.90v13.88h-13.90zM660.00 237.19h13.90v13.88h-13.90zM675.90 237.19h13.90v13.88h-13.90zM691.80 237.19h13.90v13.88h-13.90zM707.70 237.19h13.90v13.88h-13.90zM755.40 237.19h13.90v13.88h-13.90zM834.90 237.19h13.90v13.88h-13.90zM866.70 237.19h13.90v13.88h-13.90zM246.60 253.06h13.90v13.88h-13.90zM453.30 253.06h13.90v13.88h-13.90zM469.20 253.06h13.90v13.88h-13.90zM596.40 253.06h13.90v13.88h-13.90zM612.30 253.06h13.90v13.88h-13.90zM628.20 253.06h13.90v13.88h-13.90zM723.60 253.06h13.90v13.88h-13.90zM739.50 253.06h13.90v13.88h-13.90zM803.10 253.06h13.90v13.88h-13.90zM914.40 253.06h13.90v13.88h-13.90zM246.60 268.94h13.90v13.88h-13.90zM453.30 268.94h13.90v13.88h-13.90zM469.20 268.94h13.90v13.88h-13.90zM596.40 268.94h13.90v13.88h-13.90zM612.30 268.94h13.90v13.88h-13.90zM628.20 268.94h13.90v13.88h-13.90zM723.60 268.94h13.90v13.88h-13.90zM739.50 268.94h13.90v13.88h-13.90zM755.40 268.94h13.90v13.88h-13.90zM771.30 268.94h13.90v13.88h-13.90zM803.10 268.94h13.90v13.88h-13.90zM214.80 284.82h13.90v13.88h-13.90zM262.50 284.82h13.90v13.88h-13.90zM278.40 284.82h13.90v13.88h-13.90zM723.60 284.82h13.90v13.88h-13.90zM755.40 284.82h13.90v13.88h-13.90zM214.80 300.70h13.90v13.88h-13.90zM262.50 300.70h13.90v13.88h-13.90zM278.40 300.70h13.90v13.88h-13.90zM596.40 300.70h13.90v13.88h-13.90zM723.60 300.70h13.90v13.88h-13.90zM755.40 300.70h13.90v13.88h-13.90zM246.60 316.58h13.90v13.88h-13.90zM485.10 316.58h13.90v13.88h-13.90zM596.40 316.58h13.90v13.88h-13.90zM612.30 316.58h13.90v13.88h-13.90zM628.20 316.58h13.90v13.88h-13.90zM739.50 316.58h13.90v13.88h-13.90zM771.30 316.58h13.90v13.88h-13.90zM914.40 316.58h13.90v13.88h-13.90zM183.00 332.45h13.90v13.88h-13.90zM373.80 332.45h13.90v13.88h-13.90zM389.70 332.45h13.90v13.88h-13.90zM405.60 332.45h13.90v13.88h-13.90zM421.50 332.45h13.90v13.88h-13.90zM501.00 332.45h13.90v13.88h-13.90zM516.90 332.45h13.90v13.88h-13.90zM532.80 332.45h13.90v13.88h-13.90zM548.70 332.45h13.90v13.88h-13.90zM580.50 332.45h13.90v13.88h-13.90zM644.10 332.45h13.90v13.88h-13.90zM691.80 332.45h13.90v13.88h-13.90zM707.70 332.45h13.90v13.88h-13.90zM723.60 332.45h13.90v13.88h-13.90zM834.90 332.45h13.90v13.88h-13.90zM866.70 332.45h13.90v13.88h-13.90zM373.80 348.33h13.90v13.88h-13.90zM405.60 348.33h13.90v13.88h-13.90zM421.50 348.33h13.90v13.88h-13.90zM437.40 348.33h13.90v13.88h-13.90zM485.10 348.33h13.90v13.88h-13.90zM516.90 348.33h13.90v13.88h-13.90zM532.80 348.33h13.90v13.88h-13.90zM548.70 348.33h13.90v13.88h-13.90zM580.50 348.33h13.90v13.88h-13.90zM644.10 348.33h13.90v13.88h-13.90zM691.80 348.33h13.90v13.88h-13.90zM707.70 348.33h13.90v13.88h-13.90zM167.10 364.21h13.90v13.88h-13.90zM198.90 364.21h13.90v13.88h-13.90zM294.30 364.21h13.90v13.88h-13.90zM326.10 364.21h13.90v13.88h-13.90zM342.00 364.21h13.90v13.88h-13.90zM373.80 364.21h13.90v13.88h-13.90zM389.70 364.21h13.90v13.88h-13.90zM405.60 364.21h13.90v13.88h-13.90zM421.50 364.21h13.90v13.88h-13.90zM501.00 364.21h13.90v13.88h-13.90zM516.90 364.21h13.90v13.88h-13.90zM532.80 364.21h13.90v13.88h-13.90zM548.70 364.21h13.90v13.88h-13.90zM580.50 364.21h13.90v13.88h-13.90zM644.10 364.21h13.90v13.88h-13.90zM660.00 364.21h13.90v13.88h-13.90zM691.80 364.21h13.90v13.88h-13.90zM707.70 364.21h13.90v13.88h-13.90zM723.60 364.21h13.90v13.88h-13.90zM834.90 364.21h13.90v13.88h-13.90zM866.70 364.21h13.90v13.88h-13.90zM246.60 380.09h13.90v13.88h-13.90zM469.20 380.09h13.90v13.88h-13.90zM596.40 380.09h13.90v13.88h-13.90zM612.30 380.09h13.90v13.88h-13.90zM628.20 380.09h13.90v13.88h-13.90zM723.60 380.09h13.90v13.88h-13.90zM771.30 380.09h13.90v13.88h-13.90zM914.40 380.09h13.90v13.88h-13.90zM453.30 395.97h13.90v13.88h-13.90zM246.60 411.84h13.90v13.88h-13.90zM469.20 411.84h13.90v13.88h-13.90zM485.10 411.84h13.90v13.88h-13.90zM596.40 411.84h13.90v13.88h-13.90zM612.30 411.84h13.90v13.88h-13.90zM628.20 411.84h13.90v13.88h-13.90zM723.60 411.84h13.90v13.88h-13.90zM755.40 411.84h13.90v13.88h-13.90zM771.30 411.84h13.90v13.88h-13.90zM230.70 427.72h13.90v13.88h-13.90zM469.20 427.72h13.90v13.88h-13.90zM485.10 427.72h13.90v13.88h-13.90zM596.40 427.72h13.90v13.88h-13.90zM612.30 427.72h13.90v13.88h-13.90zM628.20 427.72h13.90v13.88h-13.90zM739.50 427.72h13.90v13.88h-13.90zM771.30 427.72h13.90v13.88h-13.90zM803.10 427.72h13.90v13.88h-13.90zM914.40 427.72h13.90v13.88h-13.90zM453.30 443.60h13.90v13.88h-13.90zM469.20 443.60h13.90v13.88h-13.90zM596.40 443.60h13.90v13.88h-13.90zM612.30 443.60h13.90v13.88h-13.90zM628.20 443.60h13.90v13.88h-13.90zM723.60 443.60h13.90v13.88h-13.90zM739.50 443.60h13.90v13.88h-13.90zM803.10 443.60h13.90v13.88h-13.90zM914.40 443.60h13.90v13.88h-13.90zM246.60 459.48h13.90v13.88h-13.90zM469.20 459.48h13.90v13.88h-13.90zM596.40 459.48h13.90v13.88h-13.90zM628.20 459.48h13.90v13.88h-13.90zM723.60 459.48h13.90v13.88h-13.90zM771.30 459.48h13.90v13.88h-13.90zM803.10 459.48h13.90v13.88h-13.90zM914.40 459.48h13.90v13.88h-13.90zM532.80 475.36h13.90v13.88h-13.90zM548.70 475.36h13.90v13.88h-13.90zM612.30 475.36h13.90v13.88h-13.90zM644.10 475.36h13.90v13.88h-13.90zM771.30 475.36h13.90v13.88h-13.90zM803.10 475.36h13.90v13.88h-13.90zM819.00 475.36h13.90v13.88h-13.90zM357.90 491.23h13.90v13.88h-13.90zM373.80 491.23h13.90v13.88h-13.90zM389.70 491.23h13.90v13.88h-13.90zM405.60 491.23h13.90v13.88h-13.90zM421.50 491.23h13.90v13.88h-13.90zM437.40 491.23h13.90v13.88h-13.90zM501.00 491.23h13.90v13.88h-13.90zM516.90 491.23h13.90v13.88h-13.90zM532.80 491.23h13.90v13.88h-13.90zM548.70 491.23h13.90v13.88h-13.90zM580.50 491.23h13.90v13.88h-13.90zM691.80 491.23h13.90v13.88h-13.90zM707.70 491.23h13.90v13.88h-13.90zM834.90 491.23h13.90v13.88h-13.90zM866.70 491.23h13.90v13.88h-13.90zM357.90 507.11h13.90v13.88h-13.90zM373.80 507.11h13.90v13.88h-13.90zM405.60 507.11h13.90v13.88h-13.90zM421.50 507.11h13.90v13.88h-13.90zM516.90 507.11h13.90v13.88h-13.90zM564.60 507.11h13.90v13.88h-13.90zM691.80 507.11h13.90v13.88h-13.90zM707.70 507.11h13.90v13.88h-13.90zM723.60 507.11h13.90v13.88h-13.90zM882.60 507.11h13.90v13.88h-13.90zM898.50 507.11h13.90v13.88h-13.90zM214.80 522.99h13.90v13.88h-13.90zM262.50 522.99h13.90v13.88h-13.90zM278.40 522.99h13.90v13.88h-13.90zM342.00 522.99h13.90v13.88h-13.90zM469.20 522.99h13.90v13.88h-13.90zM612.30 522.99h13.90v13.88h-13.90zM803.10 522.99h13.90v13.88h-13.90zM246.60 538.87h13.90v13.88h-13.90zM453.30 538.87h13.90v13.88h-13.90zM469.20 538.87h13.90v13.88h-13.90zM596.40 538.87h13.90v13.88h-13.90zM612.30 538.87h13.90v13.88h-13.90zM628.20 538.87h13.90v13.88h-13.90zM723.60 538.87h13.90v13.88h-13.90zM739.50 538.87h13.90v13.88h-13.90zM771.30 538.87h13.90v13.88h-13.90zM803.10 538.87h13.90v13.88h-13.90zM914.40 538.87h13.90v13.88h-13.90zM230.70 554.75h13.90v13.88h-13.90zM246.60 554.75h13.90v13.88h-13.90zM453.30 554.75h13.90v13.88h-13.90zM469.20 554.75h13.90v13.88h-13.90zM596.40 554.75h13.90v13.88h-13.90zM612.30 554.75h13.90v13.88h-13.90zM628.20 554.75h13.90v13.88h-13.90zM723.60 554.75h13.90v13.88h-13.90zM739.50 554.75h13.90v13.88h-13.90zM803.10 554.75h13.90v13.88h-13.90zM914.40 554.75h13.90v13.88h-13.90zM246.60 570.62h13.90v13.88h-13.90zM469.20 570.62h13.90v13.88h-13.90zM596.40 570.62h13.90v13.88h-13.90zM628.20 570.62h13.90v13.88h-13.90zM723.60 570.62h13.90v13.88h-13.90zM755.40 570.62h13.90v13.88h-13.90zM914.40 570.62h13.90v13.88h-13.90zM246.60 586.50h13.90v13.88h-13.90zM453.30 586.50h13.90v13.88h-13.90zM469.20 586.50h13.90v13.88h-13.90zM596.40 586.50h13.90v13.88h-13.90zM612.30 586.50h13.90v13.88h-13.90zM628.20 586.50h13.90v13.88h-13.90zM723.60 586.50h13.90v13.88h-13.90zM739.50 586.50h13.90v13.88h-13.90zM755.40 586.50h13.90v13.88h-13.90zM771.30 586.50h13.90v13.88h-13.90zM803.10 586.50h13.90v13.88h-13.90zM914.40 586.50h13.90v13.88h-13.90zM246.60 602.38h13.90v13.88h-13.90zM453.30 602.38h13.90v13.88h-13.90zM469.20 602.38h13.90v13.88h-13.90zM723.60 602.38h13.90v13.88h-13.90zM739.50 602.38h13.90v13.88h-13.90zM803.10 602.38h13.90v13.88h-13.90zM437.40 618.26h13.90v13.88h-13.90zM596.40 618.26h13.90v13.88h-13.90zM755.40 618.26h13.90v13.88h-13.90zM596.40 634.14h13.90v13.88h-13.90zM755.40 634.14h13.90v13.88h-13.90zM596.40 665.89h13.90v13.88h-13.90zM755.40 665.89h13.90v13.88h-13.90zM437.40 681.77h13.90v13.88h-13.90zM660.00 681.77h13.90v13.88h-13.90zM675.90 681.77h13.90v13.88h-13.90zM787.20 681.77h13.90v13.88h-13.90zM819.00 681.77h13.90v13.88h-13.90zM437.40 697.65h13.90v13.88h-13.90zM660.00 697.65h13.90v13.88h-13.90zM675.90 697.65h13.90v13.88h-13.90zM787.20 697.65h13.90v13.88h-13.90zM819.00 697.65h13.90v13.88h-13.90zM850.80 697.65h13.90v13.88h-13.90zM357.90 713.53h13.90v13.88h-13.90zM373.80 713.53h13.90v13.88h-13.90zM389.70 713.53h13.90v13.88h-13.90zM405.60 713.53h13.90v13.88h-13.90zM421.50 713.53h13.90v13.88h-13.90zM501.00 713.53h13.90v13.88h-13.90zM548.70 713.53h13.90v13.88h-13.90zM580.50 713.53h13.90v13.88h-13.90zM644.10 713.53h13.90v13.88h-13.90zM691.80 713.53h13.90v13.88h-13.90zM707.70 713.53h13.90v13.88h-13.90zM405.60 729.40h13.90v13.88h-13.90zM532.80 729.40h13.90v13.88h-13.90zM437.40 745.28h13.90v13.88h-13.90zM660.00 745.28h13.90v13.88h-13.90zM675.90 745.28h13.90v13.88h-13.90zM596.40 761.16h13.90v13.88h-13.90zM755.40 761.16h13.90v13.88h-13.90zM628.20 777.04h13.90v13.88h-13.90zM596.40 792.92h13.90v13.88h-13.90zM787.20 792.92h13.90v13.88h-13.90z"/>
<path fill="#A5ABFF" d="M167.10 46.65h13.90v13.88h-13.90zM198.90 46.65h13.90v13.88h-13.90zM914.40 761.16h13.90v13.88h-13.90zM914.40 792.92h13.90v13.88h-13.90z"/>
<path fill="#9FA7FF" d="M469.20 46.65h13.90v13.88h-13.90zM612.30 46.65h13.90v13.88h-13.90zM691.80 46.65h13.90v13.88h-13.90zM771.30 46.65h13.90v13.88h-13.90zM803.10 46.65h13.90v13.88h-13.90zM819.00 46.65h13.90v13.88h-13.90zM787.20 62.53h13.90v13.88h-13.90zM787.20 78.41h13.90v13.88h-13.90zM214.80 94.28h13.90v13.88h-13.90zM262.50 94.28h13.90v13.88h-13.90zM278.40 94.28h13.90v13.88h-13.90zM453.30 94.28h13.90v13.88h-13.90zM739.50 94.28h13.90v13.88h-13.90zM167.10 110.16h13.90v13.88h-13.90zM183.00 110.16h13.90v13.88h-13.90zM278.40 110.16h13.90v13.88h-13.90zM310.20 110.16h13.90v13.88h-13.90zM771.30 110.16h13.90v13.88h-13.90zM214.80 126.04h13.90v13.88h-13.90zM262.50 126.04h13.90v13.88h-13.90zM278.40 126.04h13.90v13.88h-13.90zM612.30 126.04h13.90v13.88h-13.90zM739.50 126.04h13.90v13.88h-13.90zM803.10 126.04h13.90v13.88h-13.90zM739.50 141.92h13.90v13.88h-13.90zM914.40 141.92h13.90v13.88h-13.90zM548.70 157.80h13.90v13.88h-13.90zM580.50 157.80h13.90v13.88h-13.90zM644.10 157.80h13.90v13.88h-13.90zM834.90 157.80h13.90v13.88h-13.90zM914.40 157.80h13.90v13.88h-13.90zM310.20 173.67h13.90v13.88h-13.90zM723.60 173.67h13.90v13.88h-13.90zM771.30 173.67h13.90v13.88h-13.90zM882.60 173.67h13.90v13.88h-13.90zM898.50 173.67h13.90v13.88h-13.90zM389.70 189.55h13.90v13.88h-13.90zM437.40 189.55h13.90v13.88h-13.90zM787.20 189.55h13.90v13.88h-13.90zM850.80 189.55h13.90v13.88h-13.90zM914.40 189.55h13.90v13.88h-13.90zM167.10 205.43h13.90v13.88h-13.90zM437.40 221.31h13.90v13.88h-13.90zM501.00 221.31h13.90v13.88h-13.90zM548.70 221.31h13.90v13.88h-13.90zM580.50 221.31h13.90v13.88h-13.90zM660.00 221.31h13.90v13.88h-13.90zM819.00 221.31h13.90v13.88h-13.90zM834.90 221.31h13.90v13.88h-13.90zM866.70 221.31h13.90v13.88h-13.90zM787.20 237.19h13.90v13.88h-13.90zM914.40 268.94h13.90v13.88h-13.90zM596.40 284.82h13.90v13.88h-13.90zM628.20 284.82h13.90v13.88h-13.90zM628.20 300.70h13.90v13.88h-13.90zM739.50 300.70h13.90v13.88h-13.90zM214.80 316.58h13.90v13.88h-13.90zM469.20 316.58h13.90v13.88h-13.90zM803.10 316.58h13.90v13.88h-13.90zM310.20 332.45h13.90v13.88h-13.90zM564.60 332.45h13.90v13.88h-13.90zM660.00 332.45h13.90v13.88h-13.90zM675.90 332.45h13.90v13.88h-13.90zM501.00 348.33h13.90v13.88h-13.90zM834.90 348.33h13.90v13.88h-13.90zM914.40 348.33h13.90v13.88h-13.90zM675.90 364.21h13.90v13.88h-13.90zM453.30 380.09h13.90v13.88h-13.90zM739.50 380.09h13.90v13.88h-13.90zM803.10 380.09h13.90v13.88h-13.90zM628.20 395.97h13.90v13.88h-13.90zM214.80 411.84h13.90v13.88h-13.90zM739.50 411.84h13.90v13.88h-13.90zM803.10 411.84h13.90v13.88h-13.90zM453.30 427.72h13.90v13.88h-13.90zM246.60 443.60h13.90v13.88h-13.90zM453.30 459.48h13.90v13.88h-13.90zM612.30 459.48h13.90v13.88h-13.90zM739.50 459.48h13.90v13.88h-13.90zM167.10 475.36h13.90v13.88h-13.90zM294.30 475.36h13.90v13.88h-13.90zM469.20 475.36h13.90v13.88h-13.90zM485.10 491.23h13.90v13.88h-13.90zM644.10 491.23h13.90v13.88h-13.90zM914.40 491.23h13.90v13.88h-13.90zM437.40 507.11h13.90v13.88h-13.90zM501.00 507.11h13.90v13.88h-13.90zM532.80 507.11h13.90v13.88h-13.90zM580.50 507.11h13.90v13.88h-13.90zM866.70 507.11h13.90v13.88h-13.90zM198.90 522.99h13.90v13.88h-13.90zM326.10 522.99h13.90v13.88h-13.90zM453.30 522.99h13.90v13.88h-13.90zM739.50 522.99h13.90v13.88h-13.90zM771.30 522.99h13.90v13.88h-13.90zM771.30 570.62h13.90v13.88h-13.90zM167.10 618.26h13.90v13.88h-13.90zM437.40 634.14h13.90v13.88h-13.90zM628.20 650.01h13.90v13.88h-13.90zM787.20 650.01h13.90v13.88h-13.90zM850.80 650.01h13.90v13.88h-13.90zM485.10 665.89h13.90v13.88h-13.90zM834.90 681.77h13.90v13.88h-13.90zM850.80 681.77h13.90v13.88h-13.90zM866.70 681.77h13.90v13.88h-13.90zM834.90 697.65h13.90v13.88h-13.90zM866.70 697.65h13.90v13.88h-13.90zM516.90 713.53h13.90v13.88h-13.90zM548.70 745.28h13.90v13.88h-13.90zM644.10 745.28h13.90v13.88h-13.90zM834.90 745.28h13.90v13.88h-13.90zM866.70 745.28h13.90v13.88h-13.90zM437.40 761.16h13.90v13.88h-13.90zM850.80 777.04h13.90v13.88h-13.90zM342.00 792.92h13.90v13.88h-13.90zM485.10 792.92h13.90v13.88h-13.90zM755.40 792.92h13.90v13.88h-13.90zM850.80 792.92h13.90v13.88h-13.90z"/>
<path fill="#939EFF" d="M183.00 46.65h13.90v13.88h-13.90zM294.30 46.65h13.90v13.88h-13.90zM326.10 46.65h13.90v13.88h-13.90zM342.00 46.65h13.90v13.88h-13.90zM660.00 46.65h13.90v13.88h-13.90zM675.90 46.65h13.90v13.88h-13.90zM723.60 46.65h13.90v13.88h-13.90zM739.50 46.65h13.90v13.88h-13.90zM437.40 62.53h13.90v13.88h-13.90zM628.20 62.53h13.90v13.88h-13.90zM723.60 62.53h13.90v13.88h-13.90zM850.80 62.53h13.90v13.88h-13.90zM628.20 78.41h13.90v13.88h-13.90zM723.60 78.41h13.90v13.88h-13.90zM850.80 78.41h13.90v13.88h-13.90zM437.40 94.28h13.90v13.88h-13.90zM612.30 94.28h13.90v13.88h-13.90zM787.20 94.28h13.90v13.88h-13.90zM803.10 94.28h13.90v13.88h-13.90zM373.80 110.16h13.90v13.88h-13.90zM405.60 110.16h13.90v13.88h-13.90zM421.50 110.16h13.90v13.88h-13.90zM469.20 110.16h13.90v13.88h-13.90zM485.10 110.16h13.90v13.88h-13.90zM564.60 110.16h13.90v13.88h-13.90zM612.30 110.16h13.90v13.88h-13.90zM628.20 110.16h13.90v13.88h-13.90zM723.60 110.16h13.90v13.88h-13.90zM739.50 110.16h13.90v13.88h-13.90zM803.10 110.16h13.90v13.88h-13.90zM882.60 110.16h13.90v13.88h-13.90zM898.50 110.16h13.90v13.88h-13.90zM437.40 126.04h13.90v13.88h-13.90zM453.30 126.04h13.90v13.88h-13.90zM357.90 141.92h13.90v13.88h-13.90zM373.80 141.92h13.90v13.88h-13.90zM389.70 141.92h13.90v13.88h-13.90zM405.60 141.92h13.90v13.88h-13.90zM421.50 141.92h13.90v13.88h-13.90zM437.40 141.92h13.90v13.88h-13.90zM469.20 141.92h13.90v13.88h-13.90zM501.00 141.92h13.90v13.88h-13.90zM516.90 141.92h13.90v13.88h-13.90zM532.80 141.92h13.90v13.88h-13.90zM548.70 141.92h13.90v13.88h-13.90zM580.50 141.92h13.90v13.88h-13.90zM596.40 141.92h13.90v13.88h-13.90zM612.30 141.92h13.90v13.88h-13.90zM628.20 141.92h13.90v13.88h-13.90zM691.80 141.92h13.90v13.88h-13.90zM707.70 141.92h13.90v13.88h-13.90zM771.30 141.92h13.90v13.88h-13.90zM389.70 157.80h13.90v13.88h-13.90zM660.00 157.80h13.90v13.88h-13.90zM675.90 157.80h13.90v13.88h-13.90zM755.40 157.80h13.90v13.88h-13.90zM787.20 157.80h13.90v13.88h-13.90zM850.80 157.80h13.90v13.88h-13.90zM866.70 157.80h13.90v13.88h-13.90zM183.00 173.67h13.90v13.88h-13.90zM357.90 173.67h13.90v13.88h-13.90zM373.80 173.67h13.90v13.88h-13.90zM405.60 173.67h13.90v13.88h-13.90zM421.50 173.67h13.90v13.88h-13.90zM469.20 173.67h13.90v13.88h-13.90zM485.10 173.67h13.90v13.88h-13.90zM501.00 173.67h13.90v13.88h-13.90zM516.90 173.67h13.90v13.88h-13.90zM532.80 173.67h13.90v13.88h-13.90zM548.70 173.67h13.90v13.88h-13.90zM564.60 173.67h13.90v13.88h-13.90zM580.50 173.67h13.90v13.88h-13.90zM612.30 173.67h13.90v13.88h-13.90zM628.20 173.67h13.90v13.88h-13.90zM691.80 173.67h13.90v13.88h-13.90zM707.70 173.67h13.90v13.88h-13.90zM739.50 173.67h13.90v13.88h-13.90zM755.40 173.67h13.90v13.88h-13.90zM803.10 173.67h13.90v13.88h-13.90zM866.70 173.67h13.90v13.88h-13.90zM660.00 189.55h13.90v13.88h-13.90zM675.90 189.55h13.90v13.88h-13.90zM755.40 189.55h13.90v13.88h-13.90zM819.00 189.55h13.90v13.88h-13.90zM183.00 205.43h13.90v13.88h-13.90zM469.20 205.43h13.90v13.88h-13.90zM564.60 205.43h13.90v13.88h-13.90zM612.30 205.43h13.90v13.88h-13.90zM739.50 205.43h13.90v13.88h-13.90zM771.30 205.43h13.90v13.88h-13.90zM787.20 205.43h13.90v13.88h-13.90zM803.10 205.43h13.90v13.88h-13.90zM389.70 221.31h13.90v13.88h-13.90zM485.10 221.31h13.90v13.88h-13.90zM675.90 221.31h13.90v13.88h-13.90zM755.40 221.31h13.90v13.88h-13.90zM787.20 221.31h13.90v13.88h-13.90zM850.80 221.31h13.90v13.88h-13.90zM914.40 221.31h13.90v13.88h-13.90zM167.10 237.19h13.90v13.88h-13.90zM183.00 237.19h13.90v13.88h-13.90zM198.90 237.19h13.90v13.88h-13.90zM294.30 237.19h13.90v13.88h-13.90zM326.10 237.19h13.90v13.88h-13.90zM342.00 237.19h13.90v13.88h-13.90zM485.10 237.19h13.90v13.88h-13.90zM532.80 237.19h13.90v13.88h-13.90zM564.60 237.19h13.90v13.88h-13.90zM850.80 237.19h13.90v13.88h-13.90zM882.60 237.19h13.90v13.88h-13.90zM898.50 237.19h13.90v13.88h-13.90zM914.40 237.19h13.90v13.88h-13.90zM214.80 253.06h13.90v13.88h-13.90zM437.40 253.06h13.90v13.88h-13.90zM787.20 253.06h13.90v13.88h-13.90zM819.00 253.06h13.90v13.88h-13.90zM214.80 268.94h13.90v13.88h-13.90zM262.50 268.94h13.90v13.88h-13.90zM278.40 268.94h13.90v13.88h-13.90zM437.40 268.94h13.90v13.88h-13.90zM787.20 268.94h13.90v13.88h-13.90zM819.00 268.94h13.90v13.88h-13.90zM437.40 284.82h13.90v13.88h-13.90zM469.20 284.82h13.90v13.88h-13.90zM612.30 284.82h13.90v13.88h-13.90zM739.50 284.82h13.90v13.88h-13.90zM771.30 284.82h13.90v13.88h-13.90zM803.10 284.82h13.90v13.88h-13.90zM914.40 284.82h13.90v13.88h-13.90zM437.40 300.70h13.90v13.88h-13.90zM453.30 300.70h13.90v13.88h-13.90zM469.20 300.70h13.90v13.88h-13.90zM612.30 300.70h13.90v13.88h-13.90zM771.30 300.70h13.90v13.88h-13.90zM803.10 300.70h13.90v13.88h-13.90zM914.40 300.70h13.90v13.88h-13.90zM262.50 316.58h13.90v13.88h-13.90zM278.40 316.58h13.90v13.88h-13.90zM437.40 316.58h13.90v13.88h-13.90zM548.70 316.58h13.90v13.88h-13.90zM580.50 316.58h13.90v13.88h-13.90zM437.40 332.45h13.90v13.88h-13.90zM787.20 332.45h13.90v13.88h-13.90zM819.00 332.45h13.90v13.88h-13.90zM850.80 332.45h13.90v13.88h-13.90zM882.60 332.45h13.90v13.88h-13.90zM898.50 332.45h13.90v13.88h-13.90zM389.70 348.33h13.90v13.88h-13.90zM660.00 348.33h13.90v13.88h-13.90zM675.90 348.33h13.90v13.88h-13.90zM755.40 348.33h13.90v13.88h-13.90zM787.20 348.33h13.90v13.88h-13.90zM819.00 348.33h13.90v13.88h-13.90zM850.80 348.33h13.90v13.88h-13.90zM866.70 348.33h13.90v13.88h-13.90zM183.00 364.21h13.90v13.88h-13.90zM310.20 364.21h13.90v13.88h-13.90zM564.60 364.21h13.90v13.88h-13.90zM819.00 364.21h13.90v13.88h-13.90zM214.80 380.09h13.90v13.88h-13.90zM437.40 380.09h13.90v13.88h-13.90zM644.10 380.09h13.90v13.88h-13.90zM787.20 380.09h13.90v13.88h-13.90zM819.00 380.09h13.90v13.88h-13.90zM596.40 395.97h13.90v13.88h-13.90zM723.60 395.97h13.90v13.88h-13.90zM755.40 395.97h13.90v13.88h-13.90zM787.20 395.97h13.90v13.88h-13.90zM850.80 395.97h13.90v13.88h-13.90zM262.50 411.84h13.90v13.88h-13.90zM278.40 411.84h13.90v13.88h-13.90zM437.40 411.84h13.90v13.88h-13.90zM453.30 411.84h13.90v13.88h-13.90zM644.10 411.84h13.90v13.88h-13.90zM787.20 411.84h13.90v13.88h-13.90zM819.00 411.84h13.90v13.88h-13.90zM246.60 427.72h13.90v13.88h-13.90zM723.60 427.72h13.90v13.88h-13.90zM787.20 427.72h13.90v13.88h-13.90zM819.00 427.72h13.90v13.88h-13.90zM437.40 443.60h13.90v13.88h-13.90zM787.20 443.60h13.90v13.88h-13.90zM819.00 443.60h13.90v13.88h-13.90zM214.80 459.48h13.90v13.88h-13.90zM278.40 459.48h13.90v13.88h-13.90zM437.40 459.48h13.90v13.88h-13.90zM787.20 459.48h13.90v13.88h-13.90zM819.00 459.48h13.90v13.88h-13.90zM183.00 475.36h13.90v13.88h-13.90zM198.90 475.36h13.90v13.88h-13.90zM326.10 475.36h13.90v13.88h-13.90zM342.00 475.36h13.90v13.88h-13.90zM437.40 475.36h13.90v13.88h-13.90zM453.30 475.36h13.90v13.88h-13.90zM723.60 475.36h13.90v13.88h-13.90zM739.50 475.36h13.90v13.88h-13.90zM787.20 475.36h13.90v13.88h-13.90zM850.80 475.36h13.90v13.88h-13.90zM660.00 491.23h13.90v13.88h-13.90zM675.90 491.23h13.90v13.88h-13.90zM755.40 491.23h13.90v13.88h-13.90zM787.20 491.23h13.90v13.88h-13.90zM819.00 491.23h13.90v13.88h-13.90zM850.80 491.23h13.90v13.88h-13.90zM389.70 507.11h13.90v13.88h-13.90zM485.10 507.11h13.90v13.88h-13.90zM548.70 507.11h13.90v13.88h-13.90zM660.00 507.11h13.90v13.88h-13.90zM834.90 507.11h13.90v13.88h-13.90zM167.10 522.99h13.90v13.88h-13.90zM294.30 522.99h13.90v13.88h-13.90zM357.90 522.99h13.90v13.88h-13.90zM373.80 522.99h13.90v13.88h-13.90zM405.60 522.99h13.90v13.88h-13.90zM485.10 522.99h13.90v13.88h-13.90zM501.00 522.99h13.90v13.88h-13.90zM516.90 522.99h13.90v13.88h-13.90zM548.70 522.99h13.90v13.88h-13.90zM580.50 522.99h13.90v13.88h-13.90zM628.20 522.99h13.90v13.88h-13.90zM644.10 522.99h13.90v13.88h-13.90zM660.00 522.99h13.90v13.88h-13.90zM675.90 522.99h13.90v13.88h-13.90zM691.80 522.99h13.90v13.88h-13.90zM707.70 522.99h13.90v13.88h-13.90zM819.00 522.99h13.90v13.88h-13.90zM834.90 522.99h13.90v13.88h-13.90zM866.70 522.99h13.90v13.88h-13.90zM898.50 522.99h13.90v13.88h-13.90zM214.80 538.87h13.90v13.88h-13.90zM278.40 538.87h13.90v13.88h-13.90zM787.20 538.87h13.90v13.88h-13.90zM819.00 538.87h13.90v13.88h-13.90zM850.80 538.87h13.90v13.88h-13.90zM437.40 554.75h13.90v13.88h-13.90zM787.20 554.75h13.90v13.88h-13.90zM819.00 554.75h13.90v13.88h-13.90zM850.80 554.75h13.90v13.88h-13.90zM214.80 570.62h13.90v13.88h-13.90zM278.40 570.62h13.90v13.88h-13.90zM453.30 570.62h13.90v13.88h-13.90zM612.30 570.62h13.90v13.88h-13.90zM739.50 570.62h13.90v13.88h-13.90zM803.10 570.62h13.90v13.88h-13.90zM819.00 570.62h13.90v13.88h-13.90zM278.40 586.50h13.90v13.88h-13.90zM437.40 586.50h13.90v13.88h-13.90zM787.20 586.50h13.90v13.88h-13.90zM819.00 586.50h13.90v13.88h-13.90zM850.80 586.50h13.90v13.88h-13.90zM278.40 602.38h13.90v13.88h-13.90zM437.40 602.38h13.90v13.88h-13.90zM787.20 602.38h13.90v13.88h-13.90zM819.00 602.38h13.90v13.88h-13.90zM183.00 618.26h13.90v13.88h-13.90zM294.30 618.26h13.90v13.88h-13.90zM485.10 618.26h13.90v13.88h-13.90zM723.60 618.26h13.90v13.88h-13.90zM914.40 618.26h13.90v13.88h-13.90zM167.10 634.14h13.90v13.88h-13.90zM294.30 634.14h13.90v13.88h-13.90zM485.10 634.14h13.90v13.88h-13.90zM723.60 634.14h13.90v13.88h-13.90zM914.40 634.14h13.90v13.88h-13.90zM294.30 650.01h13.90v13.88h-13.90zM596.40 650.01h13.90v13.88h-13.90zM310.20 665.89h13.90v13.88h-13.90zM326.10 665.89h13.90v13.88h-13.90zM342.00 665.89h13.90v13.88h-13.90zM437.40 665.89h13.90v13.88h-13.90zM723.60 665.89h13.90v13.88h-13.90zM914.40 665.89h13.90v13.88h-13.90zM357.90 681.77h13.90v13.88h-13.90zM373.80 681.77h13.90v13.88h-13.90zM389.70 681.77h13.90v13.88h-13.90zM421.50 681.77h13.90v13.88h-13.90zM501.00 681.77h13.90v13.88h-13.90zM548.70 681.77h13.90v13.88h-13.90zM644.10 681.77h13.90v13.88h-13.90zM691.80 681.77h13.90v13.88h-13.90zM230.70 697.65h13.90v13.88h-13.90zM548.70 697.65h13.90v13.88h-13.90zM644.10 697.65h13.90v13.88h-13.90zM691.80 697.65h13.90v13.88h-13.90zM532.80 713.53h13.90v13.88h-13.90zM262.50 729.40h13.90v13.88h-13.90zM389.70 745.28h13.90v13.88h-13.90zM421.50 745.28h13.90v13.88h-13.90zM501.00 745.28h13.90v13.88h-13.90zM580.50 745.28h13.90v13.88h-13.90zM691.80 745.28h13.90v13.88h-13.90zM707.70 745.28h13.90v13.88h-13.90zM167.10 761.16h13.90v13.88h-13.90zM485.10 761.16h13.90v13.88h-13.90zM723.60 761.16h13.90v13.88h-13.90zM342.00 777.04h13.90v13.88h-13.90zM485.10 777.04h13.90v13.88h-13.90zM596.40 777.04h13.90v13.88h-13.90zM723.60 777.04h13.90v13.88h-13.90zM755.40 777.04h13.90v13.88h-13.90zM787.20 777.04h13.90v13.88h-13.90zM914.40 777.04h13.90v13.88h-13.90zM198.90 792.92h13.90v13.88h-13.90zM326.10 792.92h13.90v13.88h-13.90zM437.40 792.92h13.90v13.88h-13.90zM723.60 792.92h13.90v13.88h-13.90z"/>
<path fill="#8796FF" d="M453.30 46.65h13.90v13.88h-13.90zM787.20 46.65h13.90v13.88h-13.90zM850.80 46.65h13.90v13.88h-13.90zM167.10 62.53h13.90v13.88h-13.90zM596.40 62.53h13.90v13.88h-13.90zM755.40 62.53h13.90v13.88h-13.90zM167.10 78.41h13.90v13.88h-13.90zM437.40 78.41h13.90v13.88h-13.90zM596.40 78.41h13.90v13.88h-13.90zM755.40 78.41h13.90v13.88h-13.90zM357.90 110.16h13.90v13.88h-13.90zM389.70 110.16h13.90v13.88h-13.90zM453.30 110.16h13.90v13.88h-13.90zM501.00 110.16h13.90v13.88h-13.90zM516.90 110.16h13.90v13.88h-13.90zM548.70 110.16h13.90v13.88h-13.90zM580.50 110.16h13.90v13.88h-13.90zM644.10 110.16h13.90v13.88h-13.90zM691.80 110.16h13.90v13.88h-13.90zM707.70 110.16h13.90v13.88h-13.90zM755.40 110.16h13.90v13.88h-13.90zM914.40 110.16h13.90v13.88h-13.90zM644.10 126.04h13.90v13.88h-13.90zM453.30 141.92h13.90v13.88h-13.90zM803.10 141.92h13.90v13.88h-13.90zM596.40 157.80h13.90v13.88h-13.90zM819.00 157.80h13.90v13.88h-13.90zM914.40 173.67h13.90v13.88h-13.90zM310.20 205.43h13.90v13.88h-13.90zM437.40 205.43h13.90v13.88h-13.90zM850.80 205.43h13.90v13.88h-13.90zM882.60 205.43h13.90v13.88h-13.90zM898.50 205.43h13.90v13.88h-13.90zM596.40 221.31h13.90v13.88h-13.90zM310.20 237.19h13.90v13.88h-13.90zM262.50 253.06h13.90v13.88h-13.90zM278.40 253.06h13.90v13.88h-13.90zM644.10 253.06h13.90v13.88h-13.90zM660.00 253.06h13.90v13.88h-13.90zM675.90 253.06h13.90v13.88h-13.90zM850.80 253.06h13.90v13.88h-13.90zM850.80 268.94h13.90v13.88h-13.90zM580.50 284.82h13.90v13.88h-13.90zM707.70 284.82h13.90v13.88h-13.90zM580.50 300.70h13.90v13.88h-13.90zM707.70 300.70h13.90v13.88h-13.90zM373.80 316.58h13.90v13.88h-13.90zM389.70 316.58h13.90v13.88h-13.90zM421.50 316.58h13.90v13.88h-13.90zM453.30 316.58h13.90v13.88h-13.90zM501.00 316.58h13.90v13.88h-13.90zM707.70 316.58h13.90v13.88h-13.90zM834.90 316.58h13.90v13.88h-13.90zM850.80 316.58h13.90v13.88h-13.90zM469.20 364.21h13.90v13.88h-13.90zM739.50 364.21h13.90v13.88h-13.90zM803.10 364.21h13.90v13.88h-13.90zM882.60 364.21h13.90v13.88h-13.90zM898.50 364.21h13.90v13.88h-13.90zM660.00 380.09h13.90v13.88h-13.90zM675.90 380.09h13.90v13.88h-13.90zM850.80 380.09h13.90v13.88h-13.90zM357.90 411.84h13.90v13.88h-13.90zM850.80 411.84h13.90v13.88h-13.90zM214.80 427.72h13.90v13.88h-13.90zM278.40 427.72h13.90v13.88h-13.90zM437.40 427.72h13.90v13.88h-13.90zM214.80 443.60h13.90v13.88h-13.90zM278.40 443.60h13.90v13.88h-13.90zM850.80 443.60h13.90v13.88h-13.90zM262.50 459.48h13.90v13.88h-13.90zM644.10 459.48h13.90v13.88h-13.90zM850.80 459.48h13.90v13.88h-13.90zM310.20 475.36h13.90v13.88h-13.90zM596.40 491.23h13.90v13.88h-13.90zM644.10 507.11h13.90v13.88h-13.90zM819.00 507.11h13.90v13.88h-13.90zM850.80 507.11h13.90v13.88h-13.90zM914.40 507.11h13.90v13.88h-13.90zM183.00 522.99h13.90v13.88h-13.90zM310.20 522.99h13.90v13.88h-13.90zM421.50 522.99h13.90v13.88h-13.90zM532.80 522.99h13.90v13.88h-13.90zM755.40 522.99h13.90v13.88h-13.90zM882.60 522.99h13.90v13.88h-13.90zM437.40 538.87h13.90v13.88h-13.90zM644.10 538.87h13.90v13.88h-13.90zM214.80 554.75h13.90v13.88h-13.90zM278.40 554.75h13.90v13.88h-13.90zM262.50 570.62h13.90v13.88h-13.90zM644.10 570.62h13.90v13.88h-13.90zM850.80 570.62h13.90v13.88h-13.90zM214.80 586.50h13.90v13.88h-13.90zM262.50 586.50h13.90v13.88h-13.90zM644.10 586.50h13.90v13.88h-13.90zM214.80 602.38h13.90v13.88h-13.90zM548.70 602.38h13.90v13.88h-13.90zM850.80 602.38h13.90v13.88h-13.90zM183.00 634.14h13.90v13.88h-13.90zM167.10 650.01h13.90v13.88h-13.90zM437.40 650.01h13.90v13.88h-13.90zM485.10 650.01h13.90v13.88h-13.90zM723.60 650.01h13.90v13.88h-13.90zM755.40 650.01h13.90v13.88h-13.90zM405.60 681.77h13.90v13.88h-13.90zM516.90 681.77h13.90v13.88h-13.90zM532.80 681.77h13.90v13.88h-13.90zM707.70 681.77h13.90v13.88h-13.90zM373.80 697.65h13.90v13.88h-13.90zM389.70 697.65h13.90v13.88h-13.90zM501.00 697.65h13.90v13.88h-13.90zM707.70 697.65h13.90v13.88h-13.90zM357.90 745.28h13.90v13.88h-13.90zM373.80 745.28h13.90v13.88h-13.90zM405.60 745.28h13.90v13.88h-13.90zM516.90 745.28h13.90v13.88h-13.90zM532.80 745.28h13.90v13.88h-13.90zM326.10 777.04h13.90v13.88h-13.90zM437.40 777.04h13.90v13.88h-13.90zM310.20 792.92h13.90v13.88h-13.90zM882.60 792.92h13.90v13.88h-13.90zM898.50 792.92h13.90v13.88h-13.90z"/>
<path fill="#7B8EFF" d="M310.20 46.65h13.90v13.88h-13.90zM437.40 46.65h13.90v13.88h-13.90zM183.00 62.53h13.90v13.88h-13.90zM198.90 62.53h13.90v13.88h-13.90zM294.30 62.53h13.90v13.88h-13.90zM485.10 62.53h13.90v13.88h-13.90zM183.00 78.41h13.90v13.88h-13.90zM198.90 78.41h13.90v13.88h-13.90zM294.30 78.41h13.90v13.88h-13.90zM326.10 78.41h13.90v13.88h-13.90zM342.00 78.41h13.90v13.88h-13.90zM485.10 78.41h13.90v13.88h-13.90zM357.90 94.28h13.90v13.88h-13.90zM373.80 94.28h13.90v13.88h-13.90zM389.70 94.28h13.90v13.88h-13.90zM421.50 94.28h13.90v13.88h-13.90zM532.80 94.28h13.90v13.88h-13.90zM548.70 94.28h13.90v13.88h-13.90zM580.50 94.28h13.90v13.88h-13.90zM644.10 94.28h13.90v13.88h-13.90zM707.70 94.28h13.90v13.88h-13.90zM819.00 94.28h13.90v13.88h-13.90zM850.80 94.28h13.90v13.88h-13.90zM532.80 110.16h13.90v13.88h-13.90zM596.40 110.16h13.90v13.88h-13.90zM675.90 110.16h13.90v13.88h-13.90zM819.00 110.16h13.90v13.88h-13.90zM834.90 110.16h13.90v13.88h-13.90zM866.70 110.16h13.90v13.88h-13.90zM357.90 126.04h13.90v13.88h-13.90zM707.70 126.04h13.90v13.88h-13.90zM787.20 126.04h13.90v13.88h-13.90zM819.00 126.04h13.90v13.88h-13.90zM850.80 126.04h13.90v13.88h-13.90zM644.10 141.92h13.90v13.88h-13.90zM660.00 141.92h13.90v13.88h-13.90zM787.20 141.92h13.90v13.88h-13.90zM834.90 141.92h13.90v13.88h-13.90zM850.80 141.92h13.90v13.88h-13.90zM866.70 141.92h13.90v13.88h-13.90zM628.20 157.80h13.90v13.88h-13.90zM739.50 157.80h13.90v13.88h-13.90zM771.30 157.80h13.90v13.88h-13.90zM389.70 173.67h13.90v13.88h-13.90zM437.40 173.67h13.90v13.88h-13.90zM453.30 173.67h13.90v13.88h-13.90zM596.40 173.67h13.90v13.88h-13.90zM644.10 173.67h13.90v13.88h-13.90zM660.00 173.67h13.90v13.88h-13.90zM675.90 173.67h13.90v13.88h-13.90zM819.00 173.67h13.90v13.88h-13.90zM834.90 173.67h13.90v13.88h-13.90zM596.40 189.55h13.90v13.88h-13.90zM612.30 189.55h13.90v13.88h-13.90zM628.20 189.55h13.90v13.88h-13.90zM739.50 189.55h13.90v13.88h-13.90zM803.10 189.55h13.90v13.88h-13.90zM453.30 205.43h13.90v13.88h-13.90zM485.10 205.43h13.90v13.88h-13.90zM612.30 221.31h13.90v13.88h-13.90zM628.20 221.31h13.90v13.88h-13.90zM771.30 221.31h13.90v13.88h-13.90zM803.10 221.31h13.90v13.88h-13.90zM437.40 237.19h13.90v13.88h-13.90zM548.70 253.06h13.90v13.88h-13.90zM691.80 253.06h13.90v13.88h-13.90zM834.90 253.06h13.90v13.88h-13.90zM866.70 253.06h13.90v13.88h-13.90zM548.70 268.94h13.90v13.88h-13.90zM644.10 268.94h13.90v13.88h-13.90zM660.00 268.94h13.90v13.88h-13.90zM675.90 268.94h13.90v13.88h-13.90zM707.70 268.94h13.90v13.88h-13.90zM357.90 284.82h13.90v13.88h-13.90zM373.80 284.82h13.90v13.88h-13.90zM389.70 284.82h13.90v13.88h-13.90zM405.60 284.82h13.90v13.88h-13.90zM421.50 284.82h13.90v13.88h-13.90zM453.30 284.82h13.90v13.88h-13.90zM516.90 284.82h13.90v13.88h-13.90zM532.80 284.82h13.90v13.88h-13.90zM548.70 284.82h13.90v13.88h-13.90zM644.10 284.82h13.90v13.88h-13.90zM691.80 284.82h13.90v13.88h-13.90zM787.20 284.82h13.90v13.88h-13.90zM850.80 284.82h13.90v13.88h-13.90zM357.90 300.70h13.90v13.88h-13.90zM373.80 300.70h13.90v13.88h-13.90zM405.60 300.70h13.90v13.88h-13.90zM421.50 300.70h13.90v13.88h-13.90zM532.80 300.70h13.90v13.88h-13.90zM548.70 300.70h13.90v13.88h-13.90zM644.10 300.70h13.90v13.88h-13.90zM691.80 300.70h13.90v13.88h-13.90zM787.20 300.70h13.90v13.88h-13.90zM819.00 300.70h13.90v13.88h-13.90zM357.90 316.58h13.90v13.88h-13.90zM405.60 316.58h13.90v13.88h-13.90zM516.90 316.58h13.90v13.88h-13.90zM532.80 316.58h13.90v13.88h-13.90zM660.00 316.58h13.90v13.88h-13.90zM675.90 316.58h13.90v13.88h-13.90zM691.80 316.58h13.90v13.88h-13.90zM787.20 316.58h13.90v13.88h-13.90zM819.00 316.58h13.90v13.88h-13.90zM866.70 316.58h13.90v13.88h-13.90zM485.10 332.45h13.90v13.88h-13.90zM596.40 332.45h13.90v13.88h-13.90zM612.30 332.45h13.90v13.88h-13.90zM739.50 332.45h13.90v13.88h-13.90zM771.30 332.45h13.90v13.88h-13.90zM803.10 332.45h13.90v13.88h-13.90zM596.40 348.33h13.90v13.88h-13.90zM628.20 348.33h13.90v13.88h-13.90zM739.50 348.33h13.90v13.88h-13.90zM771.30 348.33h13.90v13.88h-13.90zM437.40 364.21h13.90v13.88h-13.90zM612.30 364.21h13.90v13.88h-13.90zM628.20 364.21h13.90v13.88h-13.90zM771.30 364.21h13.90v13.88h-13.90zM787.20 364.21h13.90v13.88h-13.90zM850.80 364.21h13.90v13.88h-13.90zM262.50 380.09h13.90v13.88h-13.90zM278.40 380.09h13.90v13.88h-13.90zM548.70 380.09h13.90v13.88h-13.90zM866.70 380.09h13.90v13.88h-13.90zM167.10 395.97h13.90v13.88h-13.90zM294.30 395.97h13.90v13.88h-13.90zM342.00 395.97h13.90v13.88h-13.90zM437.40 395.97h13.90v13.88h-13.90zM485.10 395.97h13.90v13.88h-13.90zM373.80 411.84h13.90v13.88h-13.90zM421.50 411.84h13.90v13.88h-13.90zM516.90 411.84h13.90v13.88h-13.90zM580.50 411.84h13.90v13.88h-13.90zM660.00 411.84h13.90v13.88h-13.90zM675.90 411.84h13.90v13.88h-13.90zM691.80 411.84h13.90v13.88h-13.90zM707.70 411.84h13.90v13.88h-13.90zM866.70 411.84h13.90v13.88h-13.90zM262.50 427.72h13.90v13.88h-13.90zM644.10 427.72h13.90v13.88h-13.90zM660.00 427.72h13.90v13.88h-13.90zM675.90 427.72h13.90v13.88h-13.90zM850.80 427.72h13.90v13.88h-13.90zM866.70 427.72h13.90v13.88h-13.90zM262.50 443.60h13.90v13.88h-13.90zM548.70 443.60h13.90v13.88h-13.90zM644.10 443.60h13.90v13.88h-13.90zM675.90 443.60h13.90v13.88h-13.90zM564.60 475.36h13.90v13.88h-13.90zM628.20 475.36h13.90v13.88h-13.90zM755.40 475.36h13.90v13.88h-13.90zM882.60 475.36h13.90v13.88h-13.90zM898.50 475.36h13.90v13.88h-13.90zM675.90 507.11h13.90v13.88h-13.90zM755.40 507.11h13.90v13.88h-13.90zM787.20 507.11h13.90v13.88h-13.90zM389.70 522.99h13.90v13.88h-13.90zM564.60 522.99h13.90v13.88h-13.90zM596.40 522.99h13.90v13.88h-13.90zM723.60 522.99h13.90v13.88h-13.90zM787.20 522.99h13.90v13.88h-13.90zM914.40 522.99h13.90v13.88h-13.90zM262.50 538.87h13.90v13.88h-13.90zM548.70 538.87h13.90v13.88h-13.90zM660.00 538.87h13.90v13.88h-13.90zM675.90 538.87h13.90v13.88h-13.90zM866.70 538.87h13.90v13.88h-13.90zM644.10 554.75h13.90v13.88h-13.90zM660.00 554.75h13.90v13.88h-13.90zM675.90 554.75h13.90v13.88h-13.90zM357.90 570.62h13.90v13.88h-13.90zM437.40 570.62h13.90v13.88h-13.90zM675.90 570.62h13.90v13.88h-13.90zM787.20 570.62h13.90v13.88h-13.90zM866.70 570.62h13.90v13.88h-13.90zM548.70 586.50h13.90v13.88h-13.90zM660.00 586.50h13.90v13.88h-13.90zM675.90 586.50h13.90v13.88h-13.90zM866.70 586.50h13.90v13.88h-13.90zM262.50 602.38h13.90v13.88h-13.90zM389.70 602.38h13.90v13.88h-13.90zM644.10 602.38h13.90v13.88h-13.90zM660.00 602.38h13.90v13.88h-13.90zM675.90 602.38h13.90v13.88h-13.90zM834.90 602.38h13.90v13.88h-13.90zM866.70 602.38h13.90v13.88h-13.90zM198.90 618.26h13.90v13.88h-13.90zM310.20 618.26h13.90v13.88h-13.90zM564.60 618.26h13.90v13.88h-13.90zM882.60 618.26h13.90v13.88h-13.90zM310.20 634.14h13.90v13.88h-13.90zM882.60 634.14h13.90v13.88h-13.90zM183.00 650.01h13.90v13.88h-13.90zM326.10 650.01h13.90v13.88h-13.90zM342.00 650.01h13.90v13.88h-13.90zM914.40 650.01h13.90v13.88h-13.90zM564.60 665.89h13.90v13.88h-13.90zM882.60 665.89h13.90v13.88h-13.90zM898.50 665.89h13.90v13.88h-13.90zM214.80 681.77h13.90v13.88h-13.90zM230.70 681.77h13.90v13.88h-13.90zM262.50 681.77h13.90v13.88h-13.90zM580.50 681.77h13.90v13.88h-13.90zM246.60 697.65h13.90v13.88h-13.90zM278.40 697.65h13.90v13.88h-13.90zM357.90 697.65h13.90v13.88h-13.90zM421.50 697.65h13.90v13.88h-13.90zM516.90 697.65h13.90v13.88h-13.90zM532.80 697.65h13.90v13.88h-13.90zM580.50 697.65h13.90v13.88h-13.90zM262.50 713.53h13.90v13.88h-13.90zM214.80 729.40h13.90v13.88h-13.90zM278.40 729.40h13.90v13.88h-13.90zM230.70 745.28h13.90v13.88h-13.90zM278.40 745.28h13.90v13.88h-13.90zM183.00 761.16h13.90v13.88h-13.90zM342.00 761.16h13.90v13.88h-13.90zM882.60 761.16h13.90v13.88h-13.90zM898.50 761.16h13.90v13.88h-13.90zM167.10 777.04h13.90v13.88h-13.90zM198.90 777.04h13.90v13.88h-13.90zM310.20 777.04h13.90v13.88h-13.90zM882.60 777.04h13.90v13.88h-13.90zM898.50 777.04h13.90v13.88h-13.90zM183.00 792.92h13.90v13.88h-13.90zM564.60 792.92h13.90v13.88h-13.90z"/>
<path fill="#7289FF" d="M564.60 46.65h13.90v13.88h-13.90zM596.40 46.65h13.90v13.88h-13.90zM628.20 46.65h13.90v13.88h-13.90zM755.40 46.65h13.90v13.88h-13.90zM898.50 46.65h13.90v13.88h-13.90zM342.00 62.53h13.90v13.88h-13.90zM914.40 62.53h13.90v13.88h-13.90zM405.60 94.28h13.90v13.88h-13.90zM501.00 94.28h13.90v13.88h-13.90zM516.90 94.28h13.90v13.88h-13.90zM660.00 94.28h13.90v13.88h-13.90zM675.90 94.28h13.90v13.88h-13.90zM691.80 94.28h13.90v13.88h-13.90zM437.40 110.16h13.90v13.88h-13.90zM660.00 110.16h13.90v13.88h-13.90zM373.80 126.04h13.90v13.88h-13.90zM421.50 126.04h13.90v13.88h-13.90zM501.00 126.04h13.90v13.88h-13.90zM516.90 126.04h13.90v13.88h-13.90zM532.80 126.04h13.90v13.88h-13.90zM548.70 126.04h13.90v13.88h-13.90zM580.50 126.04h13.90v13.88h-13.90zM660.00 126.04h13.90v13.88h-13.90zM675.90 126.04h13.90v13.88h-13.90zM691.80 126.04h13.90v13.88h-13.90zM675.90 141.92h13.90v13.88h-13.90zM914.40 205.43h13.90v13.88h-13.90zM389.70 253.06h13.90v13.88h-13.90zM501.00 253.06h13.90v13.88h-13.90zM373.80 268.94h13.90v13.88h-13.90zM421.50 268.94h13.90v13.88h-13.90zM834.90 268.94h13.90v13.88h-13.90zM866.70 268.94h13.90v13.88h-13.90zM501.00 284.82h13.90v13.88h-13.90zM660.00 284.82h13.90v13.88h-13.90zM819.00 284.82h13.90v13.88h-13.90zM834.90 284.82h13.90v13.88h-13.90zM866.70 284.82h13.90v13.88h-13.90zM389.70 300.70h13.90v13.88h-13.90zM501.00 300.70h13.90v13.88h-13.90zM516.90 300.70h13.90v13.88h-13.90zM675.90 300.70h13.90v13.88h-13.90zM834.90 300.70h13.90v13.88h-13.90zM850.80 300.70h13.90v13.88h-13.90zM866.70 300.70h13.90v13.88h-13.90zM914.40 332.45h13.90v13.88h-13.90zM453.30 364.21h13.90v13.88h-13.90zM485.10 364.21h13.90v13.88h-13.90zM914.40 364.21h13.90v13.88h-13.90zM357.90 380.09h13.90v13.88h-13.90zM389.70 380.09h13.90v13.88h-13.90zM834.90 380.09h13.90v13.88h-13.90zM198.90 395.97h13.90v13.88h-13.90zM326.10 395.97h13.90v13.88h-13.90zM914.40 395.97h13.90v13.88h-13.90zM405.60 411.84h13.90v13.88h-13.90zM532.80 411.84h13.90v13.88h-13.90zM834.90 411.84h13.90v13.88h-13.90zM389.70 427.72h13.90v13.88h-13.90zM548.70 427.72h13.90v13.88h-13.90zM834.90 427.72h13.90v13.88h-13.90zM389.70 443.60h13.90v13.88h-13.90zM660.00 443.60h13.90v13.88h-13.90zM834.90 443.60h13.90v13.88h-13.90zM866.70 443.60h13.90v13.88h-13.90zM660.00 459.48h13.90v13.88h-13.90zM675.90 459.48h13.90v13.88h-13.90zM707.70 459.48h13.90v13.88h-13.90zM834.90 459.48h13.90v13.88h-13.90zM866.70 459.48h13.90v13.88h-13.90zM596.40 475.36h13.90v13.88h-13.90zM596.40 507.11h13.90v13.88h-13.90zM850.80 522.99h13.90v13.88h-13.90zM357.90 538.87h13.90v13.88h-13.90zM691.80 538.87h13.90v13.88h-13.90zM834.90 538.87h13.90v13.88h-13.90zM262.50 554.75h13.90v13.88h-13.90zM548.70 554.75h13.90v13.88h-13.90zM866.70 554.75h13.90v13.88h-13.90zM373.80 570.62h13.90v13.88h-13.90zM516.90 570.62h13.90v13.88h-13.90zM532.80 570.62h13.90v13.88h-13.90zM580.50 570.62h13.90v13.88h-13.90zM660.00 570.62h13.90v13.88h-13.90zM707.70 570.62h13.90v13.88h-13.90zM389.70 586.50h13.90v13.88h-13.90zM691.80 586.50h13.90v13.88h-13.90zM834.90 586.50h13.90v13.88h-13.90zM421.50 602.38h13.90v13.88h-13.90zM580.50 602.38h13.90v13.88h-13.90zM898.50 618.26h13.90v13.88h-13.90zM198.90 634.14h13.90v13.88h-13.90zM564.60 634.14h13.90v13.88h-13.90zM198.90 650.01h13.90v13.88h-13.90zM167.10 665.89h13.90v13.88h-13.90zM183.00 665.89h13.90v13.88h-13.90zM198.90 665.89h13.90v13.88h-13.90zM246.60 681.77h13.90v13.88h-13.90zM405.60 697.65h13.90v13.88h-13.90zM278.40 713.53h13.90v13.88h-13.90zM294.30 761.16h13.90v13.88h-13.90zM310.20 761.16h13.90v13.88h-13.90zM326.10 761.16h13.90v13.88h-13.90zM564.60 761.16h13.90v13.88h-13.90zM294.30 777.04h13.90v13.88h-13.90zM294.30 792.92h13.90v13.88h-13.90z"/>
<path fill="#6884FF" d="M485.10 46.65h13.90v13.88h-13.90zM882.60 46.65h13.90v13.88h-13.90zM310.20 62.53h13.90v13.88h-13.90zM326.10 62.53h13.90v13.88h-13.90zM564.60 62.53h13.90v13.88h-13.90zM310.20 78.41h13.90v13.88h-13.90zM564.60 78.41h13.90v13.88h-13.90zM914.40 78.41h13.90v13.88h-13.90zM834.90 94.28h13.90v13.88h-13.90zM787.20 110.16h13.90v13.88h-13.90zM389.70 126.04h13.90v13.88h-13.90zM405.60 126.04h13.90v13.88h-13.90zM866.70 126.04h13.90v13.88h-13.90zM453.30 157.80h13.90v13.88h-13.90zM469.20 157.80h13.90v13.88h-13.90zM612.30 157.80h13.90v13.88h-13.90zM850.80 173.67h13.90v13.88h-13.90zM453.30 189.55h13.90v13.88h-13.90zM469.20 189.55h13.90v13.88h-13.90zM596.40 205.43h13.90v13.88h-13.90zM628.20 205.43h13.90v13.88h-13.90zM453.30 221.31h13.90v13.88h-13.90zM469.20 221.31h13.90v13.88h-13.90zM357.90 253.06h13.90v13.88h-13.90zM373.80 253.06h13.90v13.88h-13.90zM405.60 253.06h13.90v13.88h-13.90zM421.50 253.06h13.90v13.88h-13.90zM532.80 253.06h13.90v13.88h-13.90zM580.50 253.06h13.90v13.88h-13.90zM357.90 268.94h13.90v13.88h-13.90zM389.70 268.94h13.90v13.88h-13.90zM405.60 268.94h13.90v13.88h-13.90zM501.00 268.94h13.90v13.88h-13.90zM516.90 268.94h13.90v13.88h-13.90zM532.80 268.94h13.90v13.88h-13.90zM580.50 268.94h13.90v13.88h-13.90zM453.30 332.45h13.90v13.88h-13.90zM469.20 332.45h13.90v13.88h-13.90zM755.40 332.45h13.90v13.88h-13.90zM453.30 348.33h13.90v13.88h-13.90zM469.20 348.33h13.90v13.88h-13.90zM803.10 348.33h13.90v13.88h-13.90zM755.40 364.21h13.90v13.88h-13.90zM373.80 380.09h13.90v13.88h-13.90zM405.60 380.09h13.90v13.88h-13.90zM501.00 380.09h13.90v13.88h-13.90zM516.90 380.09h13.90v13.88h-13.90zM691.80 380.09h13.90v13.88h-13.90zM707.70 380.09h13.90v13.88h-13.90zM183.00 395.97h13.90v13.88h-13.90zM310.20 395.97h13.90v13.88h-13.90zM882.60 395.97h13.90v13.88h-13.90zM898.50 395.97h13.90v13.88h-13.90zM389.70 411.84h13.90v13.88h-13.90zM501.00 411.84h13.90v13.88h-13.90zM357.90 427.72h13.90v13.88h-13.90zM373.80 427.72h13.90v13.88h-13.90zM405.60 427.72h13.90v13.88h-13.90zM421.50 427.72h13.90v13.88h-13.90zM501.00 427.72h13.90v13.88h-13.90zM516.90 427.72h13.90v13.88h-13.90zM691.80 427.72h13.90v13.88h-13.90zM707.70 427.72h13.90v13.88h-13.90zM357.90 443.60h13.90v13.88h-13.90zM373.80 443.60h13.90v13.88h-13.90zM405.60 443.60h13.90v13.88h-13.90zM421.50 443.60h13.90v13.88h-13.90zM501.00 443.60h13.90v13.88h-13.90zM532.80 443.60h13.90v13.88h-13.90zM580.50 443.60h13.90v13.88h-13.90zM691.80 443.60h13.90v13.88h-13.90zM357.90 459.48h13.90v13.88h-13.90zM373.80 459.48h13.90v13.88h-13.90zM389.70 459.48h13.90v13.88h-13.90zM405.60 459.48h13.90v13.88h-13.90zM421.50 459.48h13.90v13.88h-13.90zM516.90 459.48h13.90v13.88h-13.90zM532.80 459.48h13.90v13.88h-13.90zM548.70 459.48h13.90v13.88h-13.90zM580.50 459.48h13.90v13.88h-13.90zM691.80 459.48h13.90v13.88h-13.90zM914.40 475.36h13.90v13.88h-13.90zM453.30 491.23h13.90v13.88h-13.90zM612.30 491.23h13.90v13.88h-13.90zM628.20 491.23h13.90v13.88h-13.90zM739.50 491.23h13.90v13.88h-13.90zM771.30 491.23h13.90v13.88h-13.90zM803.10 491.23h13.90v13.88h-13.90zM469.20 507.11h13.90v13.88h-13.90zM612.30 507.11h13.90v13.88h-13.90zM628.20 507.11h13.90v13.88h-13.90zM739.50 507.11h13.90v13.88h-13.90zM771.30 507.11h13.90v13.88h-13.90zM803.10 507.11h13.90v13.88h-13.90zM373.80 538.87h13.90v13.88h-13.90zM389.70 538.87h13.90v13.88h-13.90zM405.60 538.87h13.90v13.88h-13.90zM501.00 538.87h13.90v13.88h-13.90zM516.90 538.87h13.90v13.88h-13.90zM532.80 538.87h13.90v13.88h-13.90zM707.70 538.87h13.90v13.88h-13.90zM357.90 554.75h13.90v13.88h-13.90zM373.80 554.75h13.90v13.88h-13.90zM389.70 554.75h13.90v13.88h-13.90zM421.50 554.75h13.90v13.88h-13.90zM501.00 554.75h13.90v13.88h-13.90zM516.90 554.75h13.90v13.88h-13.90zM532.80 554.75h13.90v13.88h-13.90zM580.50 554.75h13.90v13.88h-13.90zM691.80 554.75h13.90v13.88h-13.90zM707.70 554.75h13.90v13.88h-13.90zM834.90 554.75h13.90v13.88h-13.90zM405.60 570.62h13.90v13.88h-13.90zM421.50 570.62h13.90v13.88h-13.90zM501.00 570.62h13.90v13.88h-13.90zM548.70 570.62h13.90v13.88h-13.90zM691.80 570.62h13.90v13.88h-13.90zM834.90 570.62h13.90v13.88h-13.90zM357.90 586.50h13.90v13.88h-13.90zM405.60 586.50h13.90v13.88h-13.90zM421.50 586.50h13.90v13.88h-13.90zM501.00 586.50h13.90v13.88h-13.90zM516.90 586.50h13.90v13.88h-13.90zM532.80 586.50h13.90v13.88h-13.90zM580.50 586.50h13.90v13.88h-13.90zM707.70 586.50h13.90v13.88h-13.90zM373.80 602.38h13.90v13.88h-13.90zM405.60 602.38h13.90v13.88h-13.90zM501.00 602.38h13.90v13.88h-13.90zM516.90 602.38h13.90v13.88h-13.90zM532.80 602.38h13.90v13.88h-13.90zM691.80 602.38h13.90v13.88h-13.90zM707.70 602.38h13.90v13.88h-13.90zM326.10 618.26h13.90v13.88h-13.90zM342.00 634.14h13.90v13.88h-13.90zM898.50 634.14h13.90v13.88h-13.90zM564.60 650.01h13.90v13.88h-13.90zM882.60 650.01h13.90v13.88h-13.90zM898.50 650.01h13.90v13.88h-13.90zM214.80 697.65h13.90v13.88h-13.90zM214.80 713.53h13.90v13.88h-13.90zM230.70 713.53h13.90v13.88h-13.90zM246.60 729.40h13.90v13.88h-13.90zM246.60 745.28h13.90v13.88h-13.90zM262.50 745.28h13.90v13.88h-13.90zM564.60 777.04h13.90v13.88h-13.90z"/>
<path fill="#6180FF" d="M516.90 253.06h13.90v13.88h-13.90zM421.50 380.09h13.90v13.88h-13.90zM532.80 380.09h13.90v13.88h-13.90zM580.50 427.72h13.90v13.88h-13.90zM707.70 443.60h13.90v13.88h-13.90zM580.50 538.87h13.90v13.88h-13.90z"/>
<path fill="#587CFF" d="M882.60 62.53h13.90v13.88h-13.90zM898.50 78.41h13.90v13.88h-13.90z"/>
<path fill="#4876FF" d="M914.40 46.65h13.90v13.88h-13.90zM898.50 62.53h13.90v13.88h-13.90zM882.60 78.41h13.90v13.88h-13.90zM866.70 94.28h13.90v13.88h-13.90zM850.80 110.16h13.90v13.88h-13.90zM834.90 126.04h13.90v13.88h-13.90zM819.00 141.92h13.90v13.88h-13.90zM803.10 157.80h13.90v13.88h-13.90zM787.20 173.67h13.90v13.88h-13.90zM771.30 189.55h13.90v13.88h-13.90zM755.40 205.43h13.90v13.88h-13.90zM739.50 221.31h13.90v13.88h-13.90zM723.60 237.19h13.90v13.88h-13.90zM707.70 253.06h13.90v13.88h-13.90zM691.80 268.94h13.90v13.88h-13.90zM675.90 284.82h13.90v13.88h-13.90zM660.00 300.70h13.90v13.88h-13.90zM644.10 316.58h13.90v13.88h-13.90zM628.20 332.45h13.90v13.88h-13.90zM612.30 348.33h13.90v13.88h-13.90zM596.40 364.21h13.90v13.88h-13.90zM580.50 380.09h13.90v13.88h-13.90zM564.60 395.97h13.90v13.88h-13.90zM548.70 411.84h13.90v13.88h-13.90zM532.80 427.72h13.90v13.88h-13.90zM516.90 443.60h13.90v13.88h-13.90zM501.00 459.48h13.90v13.88h-13.90zM485.10 475.36h13.90v13.88h-13.90zM469.20 491.23h13.90v13.88h-13.90zM453.30 507.11h13.90v13.88h-13.90zM437.40 522.99h13.90v13.88h-13.90zM421.50 538.87h13.90v13.88h-13.90zM405.60 554.75h13.90v13.88h-13.90zM389.70 570.62h13.90v13.88h-13.90zM373.80 586.50h13.90v13.88h-13.90zM357.90 602.38h13.90v13.88h-13.90zM342.00 618.26h13.90v13.88h-13.90zM326.10 634.14h13.90v13.88h-13.90zM310.20 650.01h13.90v13.88h-13.90zM294.30 665.89h13.90v13.88h-13.90zM278.40 681.77h13.90v13.88h-13.90zM262.50 697.65h13.90v13.88h-13.90zM246.60 713.53h13.90v13.88h-13.90zM230.70 729.40h13.90v13.88h-13.90zM214.80 745.28h13.90v13.88h-13.90zM198.90 761.16h13.90v13.88h-13.90zM183.00 777.04h13.90v13.88h-13.90zM167.10 792.92h13.90v13.88h-13.90z"/>
<text transform="translate(214.00 837.70) rotate(-58) scale(1 1.038)" text-anchor="end" font-size="26.70">T130</text>
<text transform="translate(259.30 838.60) rotate(-58) scale(1 1.038)" text-anchor="end" font-size="26.70">M130</text>
<text transform="translate(309.00 837.70) rotate(-58) scale(1 1.038)" text-anchor="end" font-size="26.70">B130</text>
<text transform="translate(354.80 837.70) rotate(-58) scale(1 1.038)" text-anchor="end" font-size="26.70">T100</text>
<text transform="translate(406.00 838.10) rotate(-58) scale(1 1.038)" text-anchor="end" font-size="26.70">M100</text>
<text transform="translate(451.20 838.20) rotate(-58) scale(1 1.038)" text-anchor="end" font-size="26.70">B100</text>
<text transform="translate(498.70 838.70) rotate(-58) scale(1 1.038)" text-anchor="end" font-size="26.70">T65</text>
<text transform="translate(547.20 837.70) rotate(-58) scale(1 1.038)" text-anchor="end" font-size="26.70">M65</text>
<text transform="translate(595.40 837.20) rotate(-58) scale(1 1.038)" text-anchor="end" font-size="26.70">B65</text>
<text transform="translate(641.20 836.80) rotate(-58) scale(1 1.038)" text-anchor="end" font-size="26.70">T45</text>
<text transform="translate(690.00 839.20) rotate(-58) scale(1 1.038)" text-anchor="end" font-size="26.70">M45</text>
<text transform="translate(736.70 839.20) rotate(-58) scale(1 1.038)" text-anchor="end" font-size="26.70">B45</text>
<text transform="translate(785.70 838.80) rotate(-58) scale(1 1.038)" text-anchor="end" font-size="26.70">T25</text>
<text transform="translate(833.30 838.30) rotate(-58) scale(1 1.038)" text-anchor="end" font-size="26.70">M25</text>
<text transform="translate(879.30 837.10) rotate(-58) scale(1 1.038)" text-anchor="end" font-size="26.70">B25</text>
<text transform="translate(927.30 838.00) rotate(-58) scale(1 1.038)" text-anchor="end" font-size="26.70">D15</text>
<text transform="translate(143.30 77.60) scale(1 1.038)" text-anchor="end" font-size="26.70">D15</text>
<text transform="translate(142.90 126.00) scale(1 1.038)" text-anchor="end" font-size="26.70">B25</text>
<text transform="translate(143.10 174.30) scale(1 1.038)" text-anchor="end" font-size="26.70">M25</text>
<text transform="translate(143.50 223.60) scale(1 1.038)" text-anchor="end" font-size="26.70">T25</text>
<text transform="translate(142.90 268.60) scale(1 1.038)" text-anchor="end" font-size="26.70">B45</text>
<text transform="translate(143.10 316.50) scale(1 1.038)" text-anchor="end" font-size="26.70">M45</text>
<text transform="translate(143.50 363.10) scale(1 1.038)" text-anchor="end" font-size="26.70">T45</text>
<text transform="translate(142.90 411.50) scale(1 1.038)" text-anchor="end" font-size="26.70">B65</text>
<text transform="translate(142.90 462.10) scale(1 1.038)" text-anchor="end" font-size="26.70">M65</text>
<text transform="translate(143.50 508.70) scale(1 1.038)" text-anchor="end" font-size="26.70">T65</text>
<text transform="translate(143.00 555.30) scale(1 1.038)" text-anchor="end" font-size="26.70">B100</text>
<text transform="translate(142.90 604.80) scale(1 1.038)" text-anchor="end" font-size="26.70">M100</text>
<text transform="translate(143.50 649.00) scale(1 1.038)" text-anchor="end" font-size="26.70">T100</text>
<text transform="translate(143.00 697.60) scale(1 1.038)" text-anchor="end" font-size="26.70">B130</text>
<text transform="translate(143.40 745.10) scale(1 1.038)" text-anchor="end" font-size="26.70">M130</text>
<text transform="translate(143.50 793.70) scale(1 1.038)" text-anchor="end" font-size="26.70">T130</text>
<text transform="translate(966.90 319.80) scale(1.1 1.038)" font-size="26.70">R</text>
<text transform="translate(987.90 307.00) scale(1 1.038)" font-size="19.00">2</text>
<defs><linearGradient id="cb" x1="0" y1="0" x2="0" y2="1"><stop offset="0.000" stop-color="#4876FF"/><stop offset="0.025" stop-color="#4876FF"/><stop offset="0.050" stop-color="#5079FF"/><stop offset="0.075" stop-color="#587CFF"/><stop offset="0.100" stop-color="#6080FF"/><stop offset="0.125" stop-color="#6783FF"/><stop offset="0.150" stop-color="#6D86FF"/><stop offset="0.175" stop-color="#738AFF"/><stop offset="0.200" stop-color="#798DFF"/><stop offset="0.225" stop-color="#7F90FF"/><stop offset="0.250" stop-color="#8494FF"/><stop offset="0.275" stop-color="#8A97FF"/><stop offset="0.300" stop-color="#8F9BFF"/><stop offset="0.325" stop-color="#949EFF"/><stop offset="0.350" stop-color="#99A2FF"/><stop offset="0.375" stop-color="#9DA5FF"/><stop offset="0.400" stop-color="#A2A9FF"/><stop offset="0.425" stop-color="#A7ADFF"/><stop offset="0.450" stop-color="#ABB0FF"/><stop offset="0.475" stop-color="#B0B4FF"/><stop offset="0.500" stop-color="#B4B7FF"/><stop offset="0.525" stop-color="#B8BBFF"/><stop offset="0.550" stop-color="#BDBFFF"/><stop offset="0.575" stop-color="#C1C2FF"/><stop offset="0.600" stop-color="#C5C6FF"/><stop offset="0.625" stop-color="#C9CAFF"/><stop offset="0.650" stop-color="#CDCDFF"/><stop offset="0.675" stop-color="#D1D1FF"/><stop offset="0.700" stop-color="#D5D5FF"/><stop offset="0.725" stop-color="#D9D9FF"/><stop offset="0.750" stop-color="#DDDCFF"/><stop offset="0.775" stop-color="#E1E0FF"/><stop offset="0.800" stop-color="#E5E4FF"/><stop offset="0.825" stop-color="#E9E8FF"/><stop offset="0.850" stop-color="#ECECFF"/><stop offset="0.875" stop-color="#F0F0FF"/><stop offset="0.900" stop-color="#F4F3FF"/><stop offset="0.925" stop-color="#F8F7FF"/><stop offset="0.950" stop-color="#FBFBFF"/><stop offset="0.975" stop-color="#FFFFFF"/><stop offset="1.000" stop-color="#FFFFFF"/></linearGradient></defs>
<rect x="968.20" y="329.80" width="47.40" height="232.20" fill="url(#cb)"/>
<path d="M968.20 336.20h9.50M1006.10 336.20h9.50" stroke="#fff" stroke-width="1.60"/>
<text transform="translate(1026.70 345.80) scale(1 1.038)" font-size="26.70">1.0</text>
<path d="M968.20 408.90h9.50M1006.10 408.90h9.50" stroke="#fff" stroke-width="1.60"/>
<text transform="translate(1026.70 418.40) scale(1 1.038)" font-size="26.70">0.9</text>
<path d="M968.20 481.60h9.50M1006.10 481.60h9.50" stroke="#fff" stroke-width="1.60"/>
<text transform="translate(1026.30 491.70) scale(1 1.038)" font-size="26.70">0.8</text>
<text transform="translate(1026.80 564.30) scale(1 1.038)" font-size="26.70">0.7</text>
<line x1="1338.89" y1="46.90" x2="1338.89" y2="817.50" stroke="#EBEBEB" stroke-width="1.30"/>
<line x1="1536.43" y1="46.90" x2="1536.43" y2="817.50" stroke="#EBEBEB" stroke-width="1.30"/>
<line x1="1733.97" y1="46.90" x2="1733.97" y2="817.50" stroke="#EBEBEB" stroke-width="1.30"/>
<line x1="1931.51" y1="46.90" x2="1931.51" y2="817.50" stroke="#EBEBEB" stroke-width="1.30"/>
<line x1="1203.30" y1="623.98" x2="1987.60" y2="623.98" stroke="#EBEBEB" stroke-width="1.30"/>
<line x1="1203.30" y1="383.82" x2="1987.60" y2="383.82" stroke="#EBEBEB" stroke-width="1.30"/>
<line x1="1203.30" y1="143.66" x2="1987.60" y2="143.66" stroke="#EBEBEB" stroke-width="1.30"/>
<line x1="1240.12" y1="46.90" x2="1240.12" y2="817.50" stroke="#EBEBEB" stroke-width="1.60"/>
<line x1="1437.66" y1="46.90" x2="1437.66" y2="817.50" stroke="#EBEBEB" stroke-width="1.60"/>
<line x1="1635.20" y1="46.90" x2="1635.20" y2="817.50" stroke="#EBEBEB" stroke-width="1.60"/>
<line x1="1832.74" y1="46.90" x2="1832.74" y2="817.50" stroke="#EBEBEB" stroke-width="1.60"/>
<line x1="1203.30" y1="744.06" x2="1987.60" y2="744.06" stroke="#EBEBEB" stroke-width="1.60"/>
<line x1="1203.30" y1="503.90" x2="1987.60" y2="503.90" stroke="#EBEBEB" stroke-width="1.60"/>
<line x1="1203.30" y1="263.74" x2="1987.60" y2="263.74" stroke="#EBEBEB" stroke-width="1.60"/>
<circle cx="1837.30" cy="476.50" r="10.20" fill="#F8766D"/>
<circle cx="1679.20" cy="187.00" r="10.20" fill="#E58700"/>
<circle cx="1746.90" cy="685.60" r="10.20" fill="#C99800"/>
<circle cx="1818.20" cy="494.60" r="10.20" fill="#A3A500"/>
<circle cx="1782.50" cy="483.30" r="10.20" fill="#6BB100"/>
<circle cx="1935.10" cy="500.10" r="10.20" fill="#00BA38"/>
<circle cx="1804.90" cy="81.50" r="10.20" fill="#00BF7D"/>
<circle cx="1523.80" cy="755.30" r="10.20" fill="#00C0AF"/>
<circle cx="1661.70" cy="671.90" r="10.20" fill="#00BCD8"/>
<circle cx="1952.00" cy="567.50" r="10.20" fill="#00B0F6"/>
<circle cx="1238.80" cy="181.50" r="10.20" fill="#619CFF"/>
<circle cx="1268.10" cy="238.70" r="10.20" fill="#B983FF"/>
<circle cx="1459.70" cy="769.60" r="10.20" fill="#E76BF3"/>
<circle cx="1457.20" cy="782.10" r="10.20" fill="#FD61D1"/>
<circle cx="1365.30" cy="684.30" r="10.20" fill="#FF67A4"/>
<line x1="1203.30" y1="503.90" x2="1987.60" y2="503.90" stroke="#A0A0A0" stroke-width="1.50" stroke-dasharray="1.6 5.3 6.4 5.35" stroke-dashoffset="0.00"/>
<line x1="1635.20" y1="817.50" x2="1635.20" y2="46.90" stroke="#A0A0A0" stroke-width="1.50" stroke-dasharray="1.6 5.4 6.6 5.37" stroke-dashoffset="0.00"/>
<text transform="translate(1808.10 460.35) scale(1 1.038)" font-size="25.20">B100</text>
<text transform="translate(1649.90 171.40) scale(1 1.038)" font-size="25.20">B130</text>
<text transform="translate(1724.20 668.80) scale(1 1.038)" font-size="25.20">B25</text>
<text transform="translate(1795.70 533.80) scale(1 1.038)" font-size="25.20">B45</text>
<text transform="translate(1717.00 490.80) scale(1 1.038)" font-size="25.20">B65</text>
<text transform="translate(1903.70 484.10) scale(1 1.038)" font-size="25.20">M100</text>
<text transform="translate(1829.90 89.80) scale(1 1.038)" font-size="25.20">M130</text>
<text transform="translate(1499.30 738.30) scale(1 1.038)" font-size="25.20">M25</text>
<text transform="translate(1636.90 655.60) scale(1 1.038)" font-size="25.20">M45</text>
<text transform="translate(1927.80 551.20) scale(1 1.038)" font-size="25.20">M65</text>
<text transform="translate(1209.90 167.00) scale(1 1.038)" font-size="25.20">T100</text>
<text transform="translate(1242.10 220.40) scale(1 1.038)" font-size="25.20">T130</text>
<text transform="translate(1438.10 753.60) scale(1 1.038)" font-size="25.20">T25</text>
<text transform="translate(1385.10 793.40) scale(1 1.038)" font-size="25.20">T45</text>
<text transform="translate(1344.00 668.50) scale(1 1.038)" font-size="25.20">T65</text>
<rect x="1203.30" y="46.90" width="784.30" height="770.60" fill="none" stroke="#000" stroke-width="1.40"/>
<line x1="1240.12" y1="817.50" x2="1240.12" y2="822.00" stroke="#333" stroke-width="1.40"/>
<text x="1240.12" y="837.40" text-anchor="middle" font-size="16.40" fill="#333333" class="tk">−0.2</text>
<line x1="1437.66" y1="817.50" x2="1437.66" y2="822.00" stroke="#333" stroke-width="1.40"/>
<text x="1437.66" y="837.40" text-anchor="middle" font-size="16.40" fill="#333333" class="tk">−0.1</text>
<line x1="1635.20" y1="817.50" x2="1635.20" y2="822.00" stroke="#333" stroke-width="1.40"/>
<text x="1635.20" y="837.40" text-anchor="middle" font-size="16.40" fill="#333333" class="tk">0.0</text>
<line x1="1832.74" y1="817.50" x2="1832.74" y2="822.00" stroke="#333" stroke-width="1.40"/>
<text x="1832.74" y="837.40" text-anchor="middle" font-size="16.40" fill="#333333" class="tk">0.1</text>
<line x1="1198.80" y1="263.74" x2="1203.30" y2="263.74" stroke="#333" stroke-width="1.40"/>
<text x="1195.00" y="269.64" text-anchor="end" font-size="16.40" fill="#333333" class="tk">0.1</text>
<line x1="1198.80" y1="503.90" x2="1203.30" y2="503.90" stroke="#333" stroke-width="1.40"/>
<text x="1195.00" y="509.80" text-anchor="end" font-size="16.40" fill="#333333" class="tk">0.0</text>
<line x1="1198.80" y1="744.06" x2="1203.30" y2="744.06" stroke="#333" stroke-width="1.40"/>
<text x="1195.00" y="749.96" text-anchor="end" font-size="16.40" fill="#333333" class="tk">−0.1</text>
<text transform="translate(1529.60 866.30) scale(1.012 1)" font-size="24.60">PC1(41.86%)</text>
<text transform="translate(1160.00 496.30) rotate(-90) scale(1.012 1)" font-size="24.60">PC2(28.07%)</text>
<text transform="translate(3.50 30.40) scale(1.025 1)" font-size="39.50">A</text><text transform="translate(1102.30 31.20) scale(1.04 1)" font-size="39.50">B</text>
</svg>
</body></html>
